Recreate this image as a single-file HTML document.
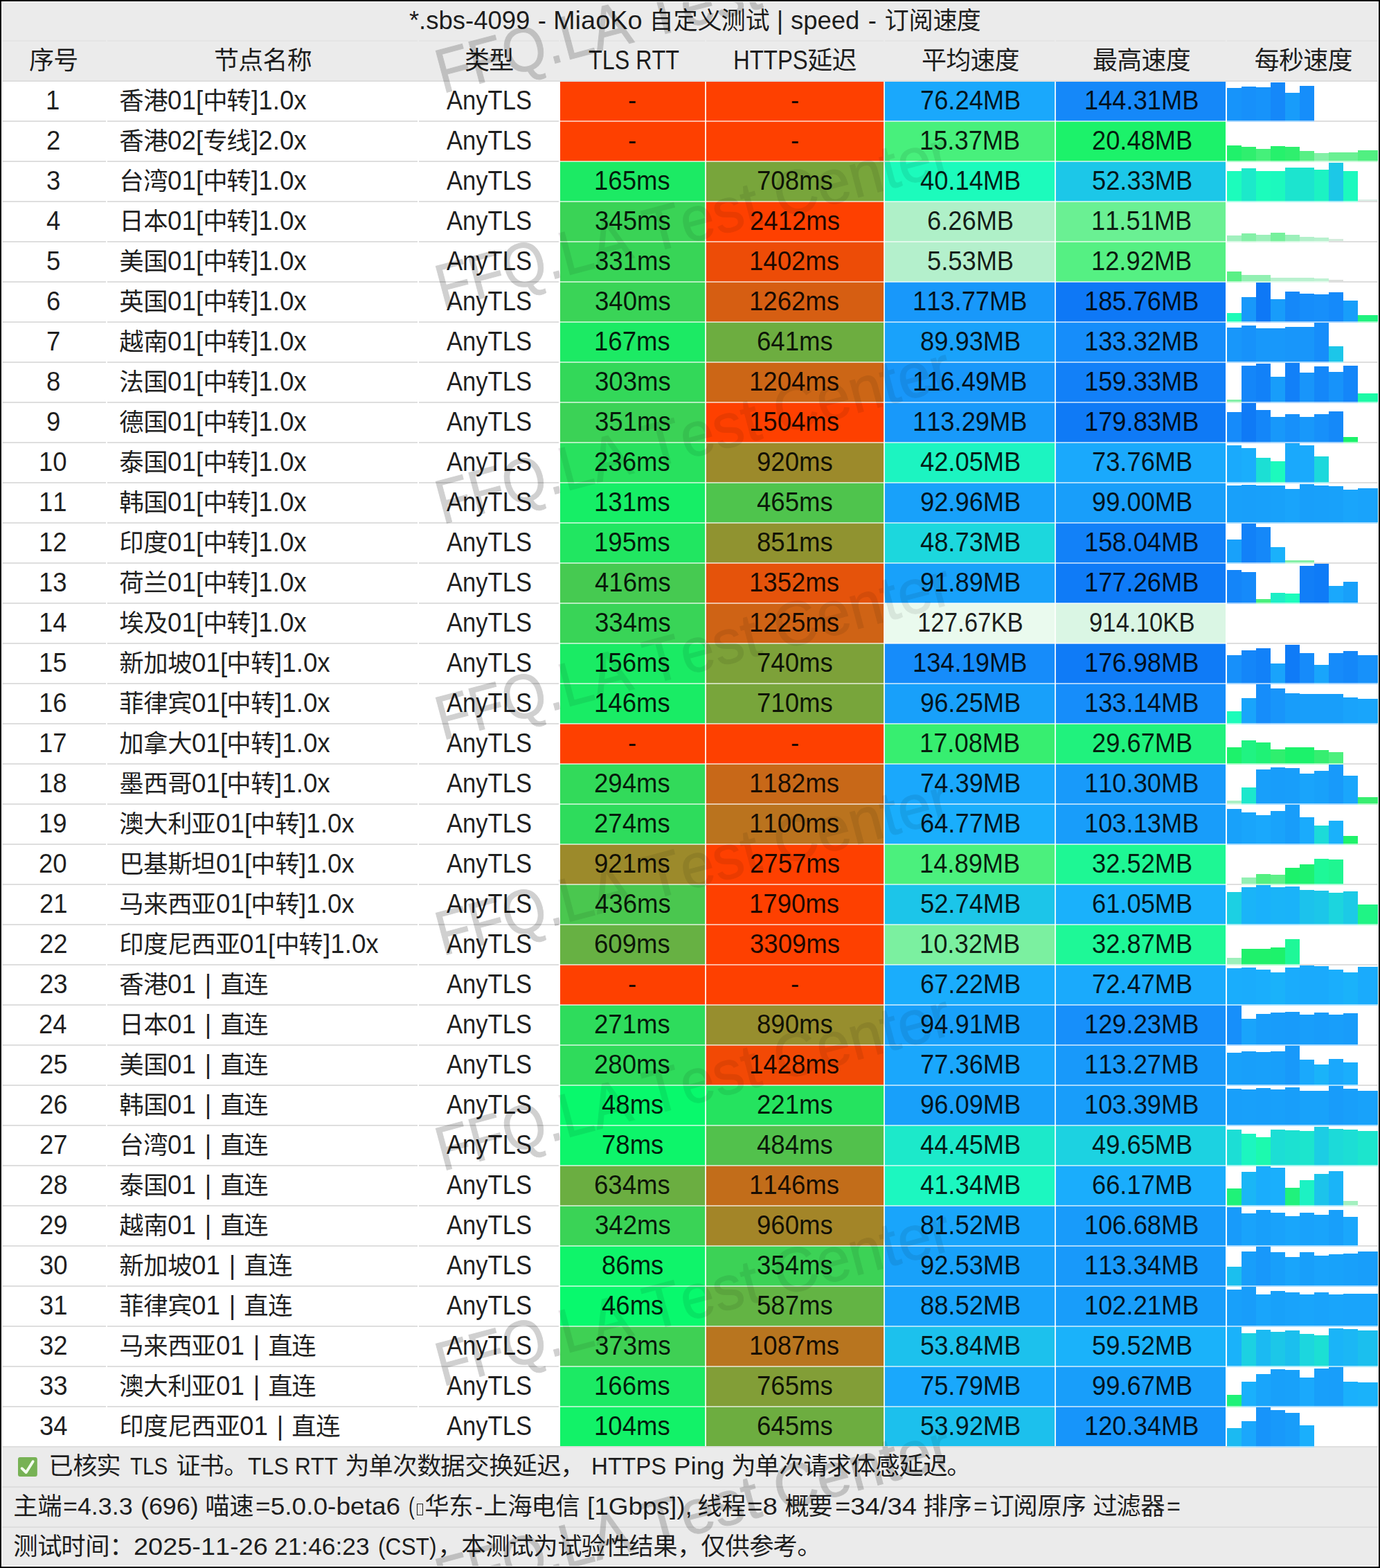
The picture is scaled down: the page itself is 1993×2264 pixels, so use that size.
<!DOCTYPE html>
<html lang="zh"><head><meta charset="utf-8"><title>MiaoKo speed</title>
<style>
html,body{margin:0;padding:0;background:#fff}
#root{position:relative;width:1993px;height:2264px;overflow:hidden;background:#fff;font-family:"Liberation Sans","Noto Sans CJK SC",sans-serif;color:rgba(0,0,0,.88)}
.b{position:absolute}
.t{position:absolute;white-space:nowrap;height:58px;line-height:58px;font-size:38px;letter-spacing:0;font-kerning:none;text-align:left;box-sizing:border-box;margin-top:-0.7px}
.t.tt{font-size:36.5px;margin-top:0.8px}
.t.f{font-size:35px;margin-top:-1.0px}
.c{display:inline-block;width:36px;margin:0 -0.4px;font-size:36px;line-height:1;font-style:normal;letter-spacing:0;white-space:nowrap;text-align:center;vertical-align:baseline;font-family:"Liberation Sans","Noto Sans CJK SC",sans-serif}
.tt .c{transform:scale(.9773);margin:0 -0.65px}
.f .c,.l .c{transform:scale(.983);margin:0 -0.7px}
.r{display:inline-block;transform-origin:0 50%;white-space:pre}
.wl{position:absolute;left:0;top:0;width:1993px;height:2264px;overflow:hidden;pointer-events:none}
.wm{position:absolute;white-space:nowrap;font-size:90px;line-height:90px;height:90px;color:#000;font-kerning:none;transform-origin:0 76.2px;transform:rotate(-15deg);-webkit-text-stroke:1px #000}

</style></head>
<body>
<div id="root">
<div class="b" style="left:0.0px;top:0.0px;width:1993.0px;height:117.0px;background:#ebebeb"></div>
<div class="b" style="left:0.0px;top:2089.0px;width:1993.0px;height:175.0px;background:#ebebeb"></div>
<div class="b" style="left:0.0px;top:57.9px;width:1993.0px;height:2.2px;background:#e5e5e5"></div>
<div class="b" style="left:0.0px;top:115.9px;width:1993.0px;height:2.2px;background:#dedede"></div>
<div class="b" style="left:0.0px;top:173.9px;width:1993.0px;height:2.2px;background:#dedede"></div>
<div class="b" style="left:0.0px;top:231.9px;width:1993.0px;height:2.2px;background:#dedede"></div>
<div class="b" style="left:0.0px;top:289.9px;width:1993.0px;height:2.2px;background:#dedede"></div>
<div class="b" style="left:0.0px;top:347.9px;width:1993.0px;height:2.2px;background:#dedede"></div>
<div class="b" style="left:0.0px;top:405.9px;width:1993.0px;height:2.2px;background:#dedede"></div>
<div class="b" style="left:0.0px;top:463.9px;width:1993.0px;height:2.2px;background:#dedede"></div>
<div class="b" style="left:0.0px;top:521.9px;width:1993.0px;height:2.2px;background:#dedede"></div>
<div class="b" style="left:0.0px;top:579.9px;width:1993.0px;height:2.2px;background:#dedede"></div>
<div class="b" style="left:0.0px;top:637.9px;width:1993.0px;height:2.2px;background:#dedede"></div>
<div class="b" style="left:0.0px;top:695.9px;width:1993.0px;height:2.2px;background:#dedede"></div>
<div class="b" style="left:0.0px;top:753.9px;width:1993.0px;height:2.2px;background:#dedede"></div>
<div class="b" style="left:0.0px;top:811.9px;width:1993.0px;height:2.2px;background:#dedede"></div>
<div class="b" style="left:0.0px;top:869.9px;width:1993.0px;height:2.2px;background:#dedede"></div>
<div class="b" style="left:0.0px;top:927.9px;width:1993.0px;height:2.2px;background:#dedede"></div>
<div class="b" style="left:0.0px;top:985.9px;width:1993.0px;height:2.2px;background:#dedede"></div>
<div class="b" style="left:0.0px;top:1043.9px;width:1993.0px;height:2.2px;background:#dedede"></div>
<div class="b" style="left:0.0px;top:1101.9px;width:1993.0px;height:2.2px;background:#dedede"></div>
<div class="b" style="left:0.0px;top:1159.9px;width:1993.0px;height:2.2px;background:#dedede"></div>
<div class="b" style="left:0.0px;top:1217.9px;width:1993.0px;height:2.2px;background:#dedede"></div>
<div class="b" style="left:0.0px;top:1275.9px;width:1993.0px;height:2.2px;background:#dedede"></div>
<div class="b" style="left:0.0px;top:1333.9px;width:1993.0px;height:2.2px;background:#dedede"></div>
<div class="b" style="left:0.0px;top:1391.9px;width:1993.0px;height:2.2px;background:#dedede"></div>
<div class="b" style="left:0.0px;top:1449.9px;width:1993.0px;height:2.2px;background:#dedede"></div>
<div class="b" style="left:0.0px;top:1507.9px;width:1993.0px;height:2.2px;background:#dedede"></div>
<div class="b" style="left:0.0px;top:1565.9px;width:1993.0px;height:2.2px;background:#dedede"></div>
<div class="b" style="left:0.0px;top:1623.9px;width:1993.0px;height:2.2px;background:#dedede"></div>
<div class="b" style="left:0.0px;top:1681.9px;width:1993.0px;height:2.2px;background:#dedede"></div>
<div class="b" style="left:0.0px;top:1739.9px;width:1993.0px;height:2.2px;background:#dedede"></div>
<div class="b" style="left:0.0px;top:1797.9px;width:1993.0px;height:2.2px;background:#dedede"></div>
<div class="b" style="left:0.0px;top:1855.9px;width:1993.0px;height:2.2px;background:#dedede"></div>
<div class="b" style="left:0.0px;top:1913.9px;width:1993.0px;height:2.2px;background:#dedede"></div>
<div class="b" style="left:0.0px;top:1971.9px;width:1993.0px;height:2.2px;background:#dedede"></div>
<div class="b" style="left:0.0px;top:2029.9px;width:1993.0px;height:2.2px;background:#dedede"></div>
<div class="b" style="left:0.0px;top:2087.9px;width:1993.0px;height:2.2px;background:#dedede"></div>
<div class="b" style="left:0.0px;top:2145.9px;width:1993.0px;height:2.2px;background:#dedede"></div>
<div class="b" style="left:0.0px;top:2203.9px;width:1993.0px;height:2.2px;background:#dedede"></div>
<div class="b" style="left:808.0px;top:118.1px;width:211.0px;height:56.9px;background:#fe4000"></div>
<div class="b" style="left:1019.0px;top:118.1px;width:258.0px;height:56.9px;background:#fe4000"></div>
<div class="b" style="left:1277.0px;top:118.1px;width:247.0px;height:56.9px;background:#1aa8fc"></div>
<div class="b" style="left:1524.0px;top:118.1px;width:247.0px;height:56.9px;background:#1588f9"></div>
<div class="b" style="left:1772.0px;top:127.4px;width:21.3px;height:48.7px;background:#1794fa"></div>
<div class="b" style="left:1793.0px;top:124.7px;width:21.3px;height:51.4px;background:#1790fa"></div>
<div class="b" style="left:1814.0px;top:126.4px;width:21.3px;height:49.7px;background:#1793fa"></div>
<div class="b" style="left:1835.0px;top:118.5px;width:21.3px;height:57.6px;background:#1588f9"></div>
<div class="b" style="left:1856.0px;top:133.6px;width:21.3px;height:42.5px;background:#189cfa"></div>
<div class="b" style="left:1877.0px;top:123.5px;width:21.3px;height:52.6px;background:#168efa"></div>
<div class="b" style="left:808.0px;top:175.0px;width:211.0px;height:58.0px;background:#fe4000"></div>
<div class="b" style="left:1019.0px;top:175.0px;width:258.0px;height:58.0px;background:#fe4000"></div>
<div class="b" style="left:1277.0px;top:175.0px;width:247.0px;height:58.0px;background:#48f07c"></div>
<div class="b" style="left:1524.0px;top:175.0px;width:247.0px;height:58.0px;background:#1cf26a"></div>
<div class="b" style="left:1772.0px;top:210.4px;width:21.3px;height:23.7px;background:#20f16b"></div>
<div class="b" style="left:1793.0px;top:212.3px;width:21.3px;height:21.8px;background:#2fef6e"></div>
<div class="b" style="left:1814.0px;top:215.0px;width:21.3px;height:19.1px;background:#45f07a"></div>
<div class="b" style="left:1835.0px;top:211.2px;width:21.3px;height:22.9px;background:#26f16c"></div>
<div class="b" style="left:1856.0px;top:212.3px;width:21.3px;height:21.8px;background:#2fef6e"></div>
<div class="b" style="left:1877.0px;top:218.2px;width:21.3px;height:15.9px;background:#58f085"></div>
<div class="b" style="left:1898.0px;top:221.4px;width:21.3px;height:12.7px;background:#84f0a7"></div>
<div class="b" style="left:1919.0px;top:219.5px;width:21.3px;height:14.6px;background:#6af093"></div>
<div class="b" style="left:1940.0px;top:219.5px;width:21.3px;height:14.6px;background:#6af093"></div>
<div class="b" style="left:1961.0px;top:217.3px;width:21.3px;height:16.8px;background:#51f081"></div>
<div class="b" style="left:1982.0px;top:217.3px;width:8.6px;height:16.8px;background:#51f081"></div>
<div class="b" style="left:808.0px;top:233.0px;width:211.0px;height:58.0px;background:#1cea64"></div>
<div class="b" style="left:1019.0px;top:233.0px;width:258.0px;height:58.0px;background:#78a53b"></div>
<div class="b" style="left:1277.0px;top:233.0px;width:247.0px;height:58.0px;background:#1cfbbc"></div>
<div class="b" style="left:1524.0px;top:233.0px;width:247.0px;height:58.0px;background:#1cc7e8"></div>
<div class="b" style="left:1772.0px;top:247.4px;width:21.3px;height:44.7px;background:#1cfcbc"></div>
<div class="b" style="left:1793.0px;top:242.6px;width:21.3px;height:49.5px;background:#1ce9ca"></div>
<div class="b" style="left:1814.0px;top:247.4px;width:21.3px;height:44.7px;background:#1cfcbc"></div>
<div class="b" style="left:1835.0px;top:246.8px;width:21.3px;height:45.3px;background:#1cf9be"></div>
<div class="b" style="left:1856.0px;top:241.5px;width:21.3px;height:50.6px;background:#1ce4cf"></div>
<div class="b" style="left:1877.0px;top:241.5px;width:21.3px;height:50.6px;background:#1ce4cf"></div>
<div class="b" style="left:1898.0px;top:244.7px;width:21.3px;height:47.4px;background:#1cf2c3"></div>
<div class="b" style="left:1919.0px;top:234.8px;width:21.3px;height:57.3px;background:#1cc8e7"></div>
<div class="b" style="left:1940.0px;top:246.6px;width:21.3px;height:45.5px;background:#1cf9be"></div>
<div class="b" style="left:1961.0px;top:287.7px;width:21.3px;height:2.2px;background:#dbeee6"></div>
<div class="b" style="left:1982.0px;top:287.7px;width:8.6px;height:2.2px;background:#dbeee6"></div>
<div class="b" style="left:808.0px;top:291.0px;width:211.0px;height:58.0px;background:#3ad356"></div>
<div class="b" style="left:1019.0px;top:291.0px;width:258.0px;height:58.0px;background:#fe4000"></div>
<div class="b" style="left:1277.0px;top:291.0px;width:247.0px;height:58.0px;background:#aff0c8"></div>
<div class="b" style="left:1524.0px;top:291.0px;width:247.0px;height:58.0px;background:#6af093"></div>
<div class="b" style="left:1772.0px;top:339.7px;width:21.3px;height:10.4px;background:#a1f0be"></div>
<div class="b" style="left:1793.0px;top:337.4px;width:21.3px;height:12.7px;background:#84f0a7"></div>
<div class="b" style="left:1814.0px;top:339.3px;width:21.3px;height:10.8px;background:#9cf0ba"></div>
<div class="b" style="left:1835.0px;top:336.4px;width:21.3px;height:13.7px;background:#76f09c"></div>
<div class="b" style="left:1856.0px;top:339.3px;width:21.3px;height:10.8px;background:#9cf0ba"></div>
<div class="b" style="left:1877.0px;top:341.8px;width:21.3px;height:8.3px;background:#b3f0cb"></div>
<div class="b" style="left:1898.0px;top:342.5px;width:21.3px;height:7.6px;background:#b8f1ce"></div>
<div class="b" style="left:1919.0px;top:345.4px;width:21.3px;height:2.5px;background:#d4ecdc"></div>
<div class="b" style="left:808.0px;top:349.0px;width:211.0px;height:58.0px;background:#38d557"></div>
<div class="b" style="left:1019.0px;top:349.0px;width:258.0px;height:58.0px;background:#ed4c07"></div>
<div class="b" style="left:1277.0px;top:349.0px;width:247.0px;height:58.0px;background:#b4f0cc"></div>
<div class="b" style="left:1524.0px;top:349.0px;width:247.0px;height:58.0px;background:#55f083"></div>
<div class="b" style="left:1772.0px;top:392.3px;width:21.3px;height:15.8px;background:#5af086"></div>
<div class="b" style="left:1793.0px;top:396.5px;width:21.3px;height:11.6px;background:#92f0b2"></div>
<div class="b" style="left:1814.0px;top:396.5px;width:21.3px;height:11.6px;background:#92f0b2"></div>
<div class="b" style="left:1835.0px;top:400.6px;width:21.3px;height:7.5px;background:#b9f1cf"></div>
<div class="b" style="left:1856.0px;top:400.6px;width:21.3px;height:7.5px;background:#b9f1cf"></div>
<div class="b" style="left:1877.0px;top:400.8px;width:21.3px;height:7.3px;background:#baf1d0"></div>
<div class="b" style="left:1898.0px;top:401.6px;width:21.3px;height:6.5px;background:#c0f2d3"></div>
<div class="b" style="left:1919.0px;top:404.4px;width:21.3px;height:1.5px;background:#dcdfdc"></div>
<div class="b" style="left:808.0px;top:407.0px;width:211.0px;height:58.0px;background:#3ad457"></div>
<div class="b" style="left:1019.0px;top:407.0px;width:258.0px;height:58.0px;background:#d65e12"></div>
<div class="b" style="left:1277.0px;top:407.0px;width:247.0px;height:58.0px;background:#1898fa"></div>
<div class="b" style="left:1524.0px;top:407.0px;width:247.0px;height:58.0px;background:#0e78f6"></div>
<div class="b" style="left:1772.0px;top:452.2px;width:21.3px;height:13.9px;background:#1cfcb8"></div>
<div class="b" style="left:1793.0px;top:429.3px;width:21.3px;height:36.8px;background:#1898fa"></div>
<div class="b" style="left:1814.0px;top:408.1px;width:21.3px;height:58.0px;background:#0e78f6"></div>
<div class="b" style="left:1835.0px;top:432.2px;width:21.3px;height:33.9px;background:#189cfa"></div>
<div class="b" style="left:1856.0px;top:421.2px;width:21.3px;height:44.9px;background:#1588f9"></div>
<div class="b" style="left:1877.0px;top:424.2px;width:21.3px;height:41.9px;background:#168dfa"></div>
<div class="b" style="left:1898.0px;top:425.2px;width:21.3px;height:40.9px;background:#178ffa"></div>
<div class="b" style="left:1919.0px;top:422.1px;width:21.3px;height:44.0px;background:#158afa"></div>
<div class="b" style="left:1940.0px;top:434.1px;width:21.3px;height:32.0px;background:#189efa"></div>
<div class="b" style="left:1961.0px;top:455.0px;width:21.3px;height:11.1px;background:#20f27e"></div>
<div class="b" style="left:1982.0px;top:455.0px;width:8.6px;height:11.1px;background:#20f27e"></div>
<div class="b" style="left:808.0px;top:465.0px;width:211.0px;height:58.0px;background:#1cea64"></div>
<div class="b" style="left:1019.0px;top:465.0px;width:258.0px;height:58.0px;background:#6dad40"></div>
<div class="b" style="left:1277.0px;top:465.0px;width:247.0px;height:58.0px;background:#19a2fb"></div>
<div class="b" style="left:1524.0px;top:465.0px;width:247.0px;height:58.0px;background:#168dfa"></div>
<div class="b" style="left:1772.0px;top:473.4px;width:21.3px;height:50.7px;background:#1897fa"></div>
<div class="b" style="left:1793.0px;top:469.9px;width:21.3px;height:54.2px;background:#1792fa"></div>
<div class="b" style="left:1814.0px;top:474.0px;width:21.3px;height:50.1px;background:#1898fa"></div>
<div class="b" style="left:1835.0px;top:474.0px;width:21.3px;height:50.1px;background:#1898fa"></div>
<div class="b" style="left:1856.0px;top:472.3px;width:21.3px;height:51.8px;background:#1896fa"></div>
<div class="b" style="left:1877.0px;top:472.3px;width:21.3px;height:51.8px;background:#1896fa"></div>
<div class="b" style="left:1898.0px;top:466.4px;width:21.3px;height:57.7px;background:#168dfa"></div>
<div class="b" style="left:1919.0px;top:500.0px;width:21.3px;height:24.1px;background:#1cc6e9"></div>
<div class="b" style="left:808.0px;top:523.0px;width:211.0px;height:58.0px;background:#33d859"></div>
<div class="b" style="left:1019.0px;top:523.0px;width:258.0px;height:58.0px;background:#cc6616"></div>
<div class="b" style="left:1277.0px;top:523.0px;width:247.0px;height:58.0px;background:#1897fa"></div>
<div class="b" style="left:1524.0px;top:523.0px;width:247.0px;height:58.0px;background:#1280f8"></div>
<div class="b" style="left:1772.0px;top:576.5px;width:21.3px;height:5.6px;background:#83f0a7"></div>
<div class="b" style="left:1793.0px;top:528.2px;width:21.3px;height:53.9px;background:#1486f9"></div>
<div class="b" style="left:1814.0px;top:525.1px;width:21.3px;height:57.0px;background:#1281f8"></div>
<div class="b" style="left:1835.0px;top:544.0px;width:21.3px;height:38.1px;background:#189dfa"></div>
<div class="b" style="left:1856.0px;top:524.1px;width:21.3px;height:58.0px;background:#1280f8"></div>
<div class="b" style="left:1877.0px;top:538.3px;width:21.3px;height:43.8px;background:#1895fa"></div>
<div class="b" style="left:1898.0px;top:529.2px;width:21.3px;height:52.9px;background:#1487f9"></div>
<div class="b" style="left:1919.0px;top:537.1px;width:21.3px;height:45.0px;background:#1793fa"></div>
<div class="b" style="left:1940.0px;top:528.2px;width:21.3px;height:53.9px;background:#1486f9"></div>
<div class="b" style="left:1961.0px;top:567.6px;width:21.3px;height:14.5px;background:#1cfaa6"></div>
<div class="b" style="left:1982.0px;top:567.6px;width:8.6px;height:14.5px;background:#1cfaa6"></div>
<div class="b" style="left:808.0px;top:581.0px;width:211.0px;height:58.0px;background:#3bd256"></div>
<div class="b" style="left:1019.0px;top:581.0px;width:258.0px;height:58.0px;background:#fe4000"></div>
<div class="b" style="left:1277.0px;top:581.0px;width:247.0px;height:58.0px;background:#1899fa"></div>
<div class="b" style="left:1524.0px;top:581.0px;width:247.0px;height:58.0px;background:#0f7af6"></div>
<div class="b" style="left:1772.0px;top:595.4px;width:21.3px;height:44.7px;background:#168bfa"></div>
<div class="b" style="left:1793.0px;top:582.3px;width:21.3px;height:57.8px;background:#0f7af6"></div>
<div class="b" style="left:1814.0px;top:592.3px;width:21.3px;height:47.8px;background:#1486f9"></div>
<div class="b" style="left:1835.0px;top:602.2px;width:21.3px;height:37.9px;background:#1898fa"></div>
<div class="b" style="left:1856.0px;top:598.4px;width:21.3px;height:41.7px;background:#1790fa"></div>
<div class="b" style="left:1877.0px;top:602.2px;width:21.3px;height:37.9px;background:#1898fa"></div>
<div class="b" style="left:1898.0px;top:598.4px;width:21.3px;height:41.7px;background:#1790fa"></div>
<div class="b" style="left:1919.0px;top:594.2px;width:21.3px;height:45.9px;background:#1589f9"></div>
<div class="b" style="left:1940.0px;top:631.3px;width:21.3px;height:8.8px;background:#1cf26b"></div>
<div class="b" style="left:808.0px;top:639.0px;width:211.0px;height:58.0px;background:#28e15e"></div>
<div class="b" style="left:1019.0px;top:639.0px;width:258.0px;height:58.0px;background:#9c8a2b"></div>
<div class="b" style="left:1277.0px;top:639.0px;width:247.0px;height:58.0px;background:#1cf4c1"></div>
<div class="b" style="left:1524.0px;top:639.0px;width:247.0px;height:58.0px;background:#1aa9fc"></div>
<div class="b" style="left:1772.0px;top:642.5px;width:21.3px;height:55.6px;background:#1aaafc"></div>
<div class="b" style="left:1793.0px;top:647.4px;width:21.3px;height:50.7px;background:#1aaefc"></div>
<div class="b" style="left:1814.0px;top:660.7px;width:21.3px;height:37.4px;background:#1cdfd4"></div>
<div class="b" style="left:1835.0px;top:665.5px;width:21.3px;height:32.6px;background:#1cfabd"></div>
<div class="b" style="left:1856.0px;top:640.4px;width:21.3px;height:57.7px;background:#1aa9fc"></div>
<div class="b" style="left:1877.0px;top:642.5px;width:21.3px;height:55.6px;background:#1aaafc"></div>
<div class="b" style="left:1898.0px;top:659.4px;width:21.3px;height:38.7px;background:#1cd8dc"></div>
<div class="b" style="left:808.0px;top:697.0px;width:211.0px;height:58.0px;background:#16ee66"></div>
<div class="b" style="left:1019.0px;top:697.0px;width:258.0px;height:58.0px;background:#4fc44d"></div>
<div class="b" style="left:1277.0px;top:697.0px;width:247.0px;height:58.0px;background:#18a1fa"></div>
<div class="b" style="left:1524.0px;top:697.0px;width:247.0px;height:58.0px;background:#189efa"></div>
<div class="b" style="left:1772.0px;top:700.5px;width:21.3px;height:55.6px;background:#18a0fa"></div>
<div class="b" style="left:1793.0px;top:699.5px;width:21.3px;height:56.6px;background:#189ffa"></div>
<div class="b" style="left:1814.0px;top:700.5px;width:21.3px;height:55.6px;background:#18a0fa"></div>
<div class="b" style="left:1835.0px;top:701.4px;width:21.3px;height:54.7px;background:#18a1fa"></div>
<div class="b" style="left:1856.0px;top:706.2px;width:21.3px;height:49.9px;background:#19a4fb"></div>
<div class="b" style="left:1877.0px;top:698.6px;width:21.3px;height:57.5px;background:#189ffa"></div>
<div class="b" style="left:1898.0px;top:701.2px;width:21.3px;height:54.9px;background:#18a0fa"></div>
<div class="b" style="left:1919.0px;top:702.4px;width:21.3px;height:53.7px;background:#18a1fa"></div>
<div class="b" style="left:1940.0px;top:707.3px;width:21.3px;height:48.8px;background:#19a5fb"></div>
<div class="b" style="left:1961.0px;top:704.6px;width:21.3px;height:51.5px;background:#19a3fb"></div>
<div class="b" style="left:1982.0px;top:704.6px;width:8.6px;height:51.5px;background:#19a3fb"></div>
<div class="b" style="left:808.0px;top:755.0px;width:211.0px;height:58.0px;background:#21e661"></div>
<div class="b" style="left:1019.0px;top:755.0px;width:258.0px;height:58.0px;background:#909330"></div>
<div class="b" style="left:1277.0px;top:755.0px;width:247.0px;height:58.0px;background:#1cd7dd"></div>
<div class="b" style="left:1524.0px;top:755.0px;width:247.0px;height:58.0px;background:#1281f8"></div>
<div class="b" style="left:1772.0px;top:779.3px;width:21.3px;height:34.8px;background:#18a1fa"></div>
<div class="b" style="left:1793.0px;top:756.1px;width:21.3px;height:58.0px;background:#1281f8"></div>
<div class="b" style="left:1814.0px;top:761.2px;width:21.3px;height:52.9px;background:#1588f9"></div>
<div class="b" style="left:1835.0px;top:790.4px;width:21.3px;height:23.7px;background:#1ab1fb"></div>
<div class="b" style="left:1856.0px;top:808.5px;width:21.3px;height:5.6px;background:#84f0a7"></div>
<div class="b" style="left:1877.0px;top:808.5px;width:21.3px;height:5.6px;background:#84f0a7"></div>
<div class="b" style="left:808.0px;top:813.0px;width:211.0px;height:58.0px;background:#46ca51"></div>
<div class="b" style="left:1019.0px;top:813.0px;width:258.0px;height:58.0px;background:#e5530b"></div>
<div class="b" style="left:1277.0px;top:813.0px;width:247.0px;height:58.0px;background:#18a1fa"></div>
<div class="b" style="left:1524.0px;top:813.0px;width:247.0px;height:58.0px;background:#0f7bf7"></div>
<div class="b" style="left:1772.0px;top:823.1px;width:21.3px;height:49.0px;background:#1485f9"></div>
<div class="b" style="left:1793.0px;top:826.2px;width:21.3px;height:45.9px;background:#158afa"></div>
<div class="b" style="left:1814.0px;top:865.2px;width:21.3px;height:6.9px;background:#4af07d"></div>
<div class="b" style="left:1835.0px;top:856.3px;width:21.3px;height:15.8px;background:#1ceec6"></div>
<div class="b" style="left:1856.0px;top:857.4px;width:21.3px;height:14.7px;background:#1cfcbc"></div>
<div class="b" style="left:1877.0px;top:817.3px;width:21.3px;height:54.8px;background:#117ef7"></div>
<div class="b" style="left:1898.0px;top:814.3px;width:21.3px;height:57.8px;background:#0f7bf7"></div>
<div class="b" style="left:1919.0px;top:846.2px;width:21.3px;height:25.9px;background:#1aa8fc"></div>
<div class="b" style="left:1940.0px;top:840.2px;width:21.3px;height:31.9px;background:#18a0fa"></div>
<div class="b" style="left:808.0px;top:871.0px;width:211.0px;height:58.0px;background:#39d457"></div>
<div class="b" style="left:1019.0px;top:871.0px;width:258.0px;height:58.0px;background:#cf6315"></div>
<div class="b" style="left:1277.0px;top:871.0px;width:247.0px;height:58.0px;background:#eafaee"></div>
<div class="b" style="left:1524.0px;top:871.0px;width:247.0px;height:58.0px;background:#daf6e4"></div>
<div class="b" style="left:808.0px;top:929.0px;width:211.0px;height:58.0px;background:#1aeb64"></div>
<div class="b" style="left:1019.0px;top:929.0px;width:258.0px;height:58.0px;background:#7da139"></div>
<div class="b" style="left:1277.0px;top:929.0px;width:247.0px;height:58.0px;background:#168cfa"></div>
<div class="b" style="left:1524.0px;top:929.0px;width:247.0px;height:58.0px;background:#0f7bf7"></div>
<div class="b" style="left:1772.0px;top:945.5px;width:21.3px;height:42.6px;background:#1790fa"></div>
<div class="b" style="left:1793.0px;top:939.4px;width:21.3px;height:48.7px;background:#1486f9"></div>
<div class="b" style="left:1814.0px;top:936.2px;width:21.3px;height:51.9px;background:#1281f8"></div>
<div class="b" style="left:1835.0px;top:958.4px;width:21.3px;height:29.7px;background:#19a3fb"></div>
<div class="b" style="left:1856.0px;top:930.5px;width:21.3px;height:57.6px;background:#0f7bf7"></div>
<div class="b" style="left:1877.0px;top:943.2px;width:21.3px;height:44.9px;background:#168bfa"></div>
<div class="b" style="left:1898.0px;top:960.3px;width:21.3px;height:27.8px;background:#19a5fb"></div>
<div class="b" style="left:1919.0px;top:943.2px;width:21.3px;height:44.9px;background:#168bfa"></div>
<div class="b" style="left:1940.0px;top:940.3px;width:21.3px;height:47.8px;background:#1487f9"></div>
<div class="b" style="left:1961.0px;top:946.4px;width:21.3px;height:41.7px;background:#1791fa"></div>
<div class="b" style="left:1982.0px;top:946.4px;width:8.6px;height:41.7px;background:#1791fa"></div>
<div class="b" style="left:808.0px;top:987.0px;width:211.0px;height:58.0px;background:#19ec65"></div>
<div class="b" style="left:1019.0px;top:987.0px;width:258.0px;height:58.0px;background:#78a53b"></div>
<div class="b" style="left:1277.0px;top:987.0px;width:247.0px;height:58.0px;background:#18a0fa"></div>
<div class="b" style="left:1524.0px;top:987.0px;width:247.0px;height:58.0px;background:#168dfa"></div>
<div class="b" style="left:1772.0px;top:1027.4px;width:21.3px;height:18.7px;background:#1cfcba"></div>
<div class="b" style="left:1793.0px;top:1008.4px;width:21.3px;height:37.7px;background:#19a4fb"></div>
<div class="b" style="left:1814.0px;top:988.1px;width:21.3px;height:58.0px;background:#168dfa"></div>
<div class="b" style="left:1835.0px;top:994.2px;width:21.3px;height:51.9px;background:#1895fa"></div>
<div class="b" style="left:1856.0px;top:1001.2px;width:21.3px;height:44.9px;background:#189dfa"></div>
<div class="b" style="left:1877.0px;top:1002.3px;width:21.3px;height:43.8px;background:#189efa"></div>
<div class="b" style="left:1898.0px;top:1002.3px;width:21.3px;height:43.8px;background:#189efa"></div>
<div class="b" style="left:1919.0px;top:1002.3px;width:21.3px;height:43.8px;background:#189efa"></div>
<div class="b" style="left:1940.0px;top:1007.1px;width:21.3px;height:39.0px;background:#19a3fb"></div>
<div class="b" style="left:1961.0px;top:1009.3px;width:21.3px;height:36.8px;background:#19a5fb"></div>
<div class="b" style="left:1982.0px;top:1009.3px;width:8.6px;height:36.8px;background:#19a5fb"></div>
<div class="b" style="left:808.0px;top:1045.0px;width:211.0px;height:58.0px;background:#fe4000"></div>
<div class="b" style="left:1019.0px;top:1045.0px;width:258.0px;height:58.0px;background:#fe4000"></div>
<div class="b" style="left:1277.0px;top:1045.0px;width:247.0px;height:58.0px;background:#37ee70"></div>
<div class="b" style="left:1524.0px;top:1045.0px;width:247.0px;height:58.0px;background:#20f27d"></div>
<div class="b" style="left:1772.0px;top:1078.5px;width:21.3px;height:25.6px;background:#1df26b"></div>
<div class="b" style="left:1793.0px;top:1069.3px;width:21.3px;height:34.8px;background:#20f382"></div>
<div class="b" style="left:1814.0px;top:1072.1px;width:21.3px;height:32.0px;background:#1ff276"></div>
<div class="b" style="left:1835.0px;top:1082.4px;width:21.3px;height:21.7px;background:#2fef6e"></div>
<div class="b" style="left:1856.0px;top:1079.2px;width:21.3px;height:24.9px;background:#1cf26b"></div>
<div class="b" style="left:1877.0px;top:1079.2px;width:21.3px;height:24.9px;background:#1cf26b"></div>
<div class="b" style="left:1898.0px;top:1083.3px;width:21.3px;height:20.8px;background:#36ee70"></div>
<div class="b" style="left:1919.0px;top:1086.2px;width:21.3px;height:17.9px;background:#4cf07e"></div>
<div class="b" style="left:808.0px;top:1103.0px;width:211.0px;height:58.0px;background:#32da5a"></div>
<div class="b" style="left:1019.0px;top:1103.0px;width:258.0px;height:58.0px;background:#c86818"></div>
<div class="b" style="left:1277.0px;top:1103.0px;width:247.0px;height:58.0px;background:#1aa8fc"></div>
<div class="b" style="left:1524.0px;top:1103.0px;width:247.0px;height:58.0px;background:#189afa"></div>
<div class="b" style="left:1772.0px;top:1156.4px;width:21.3px;height:5.7px;background:#aaf0c4"></div>
<div class="b" style="left:1793.0px;top:1137.3px;width:21.3px;height:24.8px;background:#1ce7cc"></div>
<div class="b" style="left:1814.0px;top:1111.4px;width:21.3px;height:50.7px;background:#189ffa"></div>
<div class="b" style="left:1835.0px;top:1108.2px;width:21.3px;height:53.9px;background:#189dfa"></div>
<div class="b" style="left:1856.0px;top:1109.2px;width:21.3px;height:52.9px;background:#189efa"></div>
<div class="b" style="left:1877.0px;top:1117.2px;width:21.3px;height:44.9px;background:#19a4fb"></div>
<div class="b" style="left:1898.0px;top:1113.4px;width:21.3px;height:48.7px;background:#18a1fa"></div>
<div class="b" style="left:1919.0px;top:1104.1px;width:21.3px;height:58.0px;background:#189afa"></div>
<div class="b" style="left:1940.0px;top:1120.2px;width:21.3px;height:41.9px;background:#1aa6fc"></div>
<div class="b" style="left:1961.0px;top:1151.3px;width:21.3px;height:10.8px;background:#37ee70"></div>
<div class="b" style="left:1982.0px;top:1151.3px;width:8.6px;height:10.8px;background:#37ee70"></div>
<div class="b" style="left:808.0px;top:1161.0px;width:211.0px;height:58.0px;background:#2edc5c"></div>
<div class="b" style="left:1019.0px;top:1161.0px;width:258.0px;height:58.0px;background:#ba731e"></div>
<div class="b" style="left:1277.0px;top:1161.0px;width:247.0px;height:58.0px;background:#1aaefc"></div>
<div class="b" style="left:1524.0px;top:1161.0px;width:247.0px;height:58.0px;background:#189dfa"></div>
<div class="b" style="left:1772.0px;top:1168.1px;width:21.3px;height:52.0px;background:#18a1fa"></div>
<div class="b" style="left:1793.0px;top:1173.4px;width:21.3px;height:46.7px;background:#19a5fb"></div>
<div class="b" style="left:1814.0px;top:1177.3px;width:21.3px;height:42.8px;background:#1aa8fc"></div>
<div class="b" style="left:1835.0px;top:1171.3px;width:21.3px;height:48.8px;background:#19a3fb"></div>
<div class="b" style="left:1856.0px;top:1162.4px;width:21.3px;height:57.7px;background:#189dfa"></div>
<div class="b" style="left:1877.0px;top:1180.1px;width:21.3px;height:40.0px;background:#1aabfc"></div>
<div class="b" style="left:1898.0px;top:1192.2px;width:21.3px;height:27.9px;background:#1cdbd8"></div>
<div class="b" style="left:1919.0px;top:1185.2px;width:21.3px;height:34.9px;background:#1ab1fb"></div>
<div class="b" style="left:1940.0px;top:1207.1px;width:21.3px;height:13.0px;background:#1ff26b"></div>
<div class="b" style="left:808.0px;top:1219.0px;width:211.0px;height:58.0px;background:#9c8a2b"></div>
<div class="b" style="left:1019.0px;top:1219.0px;width:258.0px;height:58.0px;background:#fe4000"></div>
<div class="b" style="left:1277.0px;top:1219.0px;width:247.0px;height:58.0px;background:#4bf07d"></div>
<div class="b" style="left:1524.0px;top:1219.0px;width:247.0px;height:58.0px;background:#1ef794"></div>
<div class="b" style="left:1793.0px;top:1266.6px;width:21.3px;height:11.5px;background:#93f0b3"></div>
<div class="b" style="left:1814.0px;top:1261.6px;width:21.3px;height:16.5px;background:#53f081"></div>
<div class="b" style="left:1835.0px;top:1262.6px;width:21.3px;height:15.5px;background:#5ef089"></div>
<div class="b" style="left:1856.0px;top:1252.5px;width:21.3px;height:25.6px;background:#1df26b"></div>
<div class="b" style="left:1877.0px;top:1248.3px;width:21.3px;height:29.8px;background:#1ef270"></div>
<div class="b" style="left:1898.0px;top:1240.4px;width:21.3px;height:37.7px;background:#1ef898"></div>
<div class="b" style="left:1919.0px;top:1241.3px;width:21.3px;height:36.8px;background:#1ff691"></div>
<div class="b" style="left:808.0px;top:1277.0px;width:211.0px;height:58.0px;background:#4ac74f"></div>
<div class="b" style="left:1019.0px;top:1277.0px;width:258.0px;height:58.0px;background:#fe4000"></div>
<div class="b" style="left:1277.0px;top:1277.0px;width:247.0px;height:58.0px;background:#1cc5e9"></div>
<div class="b" style="left:1524.0px;top:1277.0px;width:247.0px;height:58.0px;background:#1ab1fb"></div>
<div class="b" style="left:1772.0px;top:1288.3px;width:21.3px;height:47.8px;background:#1cd0e3"></div>
<div class="b" style="left:1793.0px;top:1281.3px;width:21.3px;height:54.8px;background:#1ab4f8"></div>
<div class="b" style="left:1814.0px;top:1278.3px;width:21.3px;height:57.8px;background:#1ab1fb"></div>
<div class="b" style="left:1835.0px;top:1281.3px;width:21.3px;height:54.8px;background:#1ab4f8"></div>
<div class="b" style="left:1856.0px;top:1280.2px;width:21.3px;height:55.9px;background:#1ab3f9"></div>
<div class="b" style="left:1877.0px;top:1285.2px;width:21.3px;height:50.9px;background:#1cc2ec"></div>
<div class="b" style="left:1898.0px;top:1286.1px;width:21.3px;height:50.0px;background:#1cc6e9"></div>
<div class="b" style="left:1919.0px;top:1289.3px;width:21.3px;height:46.8px;background:#1cd5de"></div>
<div class="b" style="left:1940.0px;top:1287.1px;width:21.3px;height:49.0px;background:#1ccae6"></div>
<div class="b" style="left:1961.0px;top:1306.1px;width:21.3px;height:30.0px;background:#1ff485"></div>
<div class="b" style="left:1982.0px;top:1306.1px;width:8.6px;height:30.0px;background:#1ff485"></div>
<div class="b" style="left:808.0px;top:1335.0px;width:211.0px;height:58.0px;background:#67b143"></div>
<div class="b" style="left:1019.0px;top:1335.0px;width:258.0px;height:58.0px;background:#fe4000"></div>
<div class="b" style="left:1277.0px;top:1335.0px;width:247.0px;height:58.0px;background:#7bf0a0"></div>
<div class="b" style="left:1524.0px;top:1335.0px;width:247.0px;height:58.0px;background:#1ef897"></div>
<div class="b" style="left:1772.0px;top:1383.3px;width:21.3px;height:10.8px;background:#9cf0ba"></div>
<div class="b" style="left:1793.0px;top:1370.4px;width:21.3px;height:23.7px;background:#20f16b"></div>
<div class="b" style="left:1814.0px;top:1370.4px;width:21.3px;height:23.7px;background:#20f16b"></div>
<div class="b" style="left:1835.0px;top:1368.2px;width:21.3px;height:25.9px;background:#1df26b"></div>
<div class="b" style="left:1856.0px;top:1356.4px;width:21.3px;height:37.7px;background:#1ef898"></div>
<div class="b" style="left:808.0px;top:1393.0px;width:211.0px;height:58.0px;background:#fe4000"></div>
<div class="b" style="left:1019.0px;top:1393.0px;width:258.0px;height:58.0px;background:#fe4000"></div>
<div class="b" style="left:1277.0px;top:1393.0px;width:247.0px;height:58.0px;background:#1aadfc"></div>
<div class="b" style="left:1524.0px;top:1393.0px;width:247.0px;height:58.0px;background:#1aaafc"></div>
<div class="b" style="left:1772.0px;top:1398.2px;width:21.3px;height:53.9px;background:#1aadfc"></div>
<div class="b" style="left:1793.0px;top:1397.2px;width:21.3px;height:54.9px;background:#1aacfc"></div>
<div class="b" style="left:1814.0px;top:1400.1px;width:21.3px;height:52.0px;background:#1aaefc"></div>
<div class="b" style="left:1835.0px;top:1403.9px;width:21.3px;height:48.2px;background:#1ab2fa"></div>
<div class="b" style="left:1856.0px;top:1397.2px;width:21.3px;height:54.9px;background:#1aacfc"></div>
<div class="b" style="left:1877.0px;top:1394.4px;width:21.3px;height:57.7px;background:#1aaafc"></div>
<div class="b" style="left:1898.0px;top:1395.3px;width:21.3px;height:56.8px;background:#1aaafc"></div>
<div class="b" style="left:1919.0px;top:1400.1px;width:21.3px;height:52.0px;background:#1aaefc"></div>
<div class="b" style="left:1940.0px;top:1403.9px;width:21.3px;height:48.2px;background:#1ab2fa"></div>
<div class="b" style="left:1961.0px;top:1396.3px;width:21.3px;height:55.8px;background:#1aabfc"></div>
<div class="b" style="left:1982.0px;top:1396.3px;width:8.6px;height:55.8px;background:#1aabfc"></div>
<div class="b" style="left:808.0px;top:1451.0px;width:211.0px;height:58.0px;background:#2edc5c"></div>
<div class="b" style="left:1019.0px;top:1451.0px;width:258.0px;height:58.0px;background:#978e2e"></div>
<div class="b" style="left:1277.0px;top:1451.0px;width:247.0px;height:58.0px;background:#18a0fa"></div>
<div class="b" style="left:1524.0px;top:1451.0px;width:247.0px;height:58.0px;background:#178ffa"></div>
<div class="b" style="left:1772.0px;top:1452.1px;width:21.3px;height:58.0px;background:#178ffa"></div>
<div class="b" style="left:1793.0px;top:1471.1px;width:21.3px;height:39.0px;background:#19a4fb"></div>
<div class="b" style="left:1814.0px;top:1464.2px;width:21.3px;height:45.9px;background:#189dfa"></div>
<div class="b" style="left:1835.0px;top:1462.3px;width:21.3px;height:47.8px;background:#189cfa"></div>
<div class="b" style="left:1856.0px;top:1461.3px;width:21.3px;height:48.8px;background:#189bfa"></div>
<div class="b" style="left:1877.0px;top:1465.4px;width:21.3px;height:44.7px;background:#189efa"></div>
<div class="b" style="left:1898.0px;top:1462.3px;width:21.3px;height:47.8px;background:#189cfa"></div>
<div class="b" style="left:1919.0px;top:1465.1px;width:21.3px;height:45.0px;background:#189efa"></div>
<div class="b" style="left:1940.0px;top:1463.2px;width:21.3px;height:46.9px;background:#189cfa"></div>
<div class="b" style="left:808.0px;top:1509.0px;width:211.0px;height:58.0px;background:#2fdb5b"></div>
<div class="b" style="left:1019.0px;top:1509.0px;width:258.0px;height:58.0px;background:#f24905"></div>
<div class="b" style="left:1277.0px;top:1509.0px;width:247.0px;height:58.0px;background:#1aa7fc"></div>
<div class="b" style="left:1524.0px;top:1509.0px;width:247.0px;height:58.0px;background:#1899fa"></div>
<div class="b" style="left:1772.0px;top:1520.3px;width:21.3px;height:47.8px;background:#18a1fa"></div>
<div class="b" style="left:1793.0px;top:1518.1px;width:21.3px;height:50.0px;background:#189ffa"></div>
<div class="b" style="left:1814.0px;top:1519.1px;width:21.3px;height:49.0px;background:#18a0fa"></div>
<div class="b" style="left:1835.0px;top:1518.1px;width:21.3px;height:50.0px;background:#189ffa"></div>
<div class="b" style="left:1856.0px;top:1510.3px;width:21.3px;height:57.8px;background:#1899fa"></div>
<div class="b" style="left:1877.0px;top:1530.2px;width:21.3px;height:37.9px;background:#1aa9fc"></div>
<div class="b" style="left:1898.0px;top:1537.1px;width:21.3px;height:31.0px;background:#1ab3f9"></div>
<div class="b" style="left:1919.0px;top:1529.3px;width:21.3px;height:38.8px;background:#1aa8fc"></div>
<div class="b" style="left:1940.0px;top:1534.2px;width:21.3px;height:33.9px;background:#1aaefc"></div>
<div class="b" style="left:808.0px;top:1567.0px;width:211.0px;height:58.0px;background:#08f96c"></div>
<div class="b" style="left:1019.0px;top:1567.0px;width:258.0px;height:58.0px;background:#25e35f"></div>
<div class="b" style="left:1277.0px;top:1567.0px;width:247.0px;height:58.0px;background:#18a0fa"></div>
<div class="b" style="left:1524.0px;top:1567.0px;width:247.0px;height:58.0px;background:#189dfa"></div>
<div class="b" style="left:1772.0px;top:1572.2px;width:21.3px;height:53.9px;background:#189ffa"></div>
<div class="b" style="left:1793.0px;top:1573.2px;width:21.3px;height:52.9px;background:#18a0fa"></div>
<div class="b" style="left:1814.0px;top:1571.3px;width:21.3px;height:54.8px;background:#189ffa"></div>
<div class="b" style="left:1835.0px;top:1572.6px;width:21.3px;height:53.5px;background:#18a0fa"></div>
<div class="b" style="left:1856.0px;top:1570.3px;width:21.3px;height:55.8px;background:#189efa"></div>
<div class="b" style="left:1877.0px;top:1575.1px;width:21.3px;height:51.0px;background:#18a2fa"></div>
<div class="b" style="left:1898.0px;top:1575.1px;width:21.3px;height:51.0px;background:#18a2fa"></div>
<div class="b" style="left:1919.0px;top:1568.1px;width:21.3px;height:58.0px;background:#189cfa"></div>
<div class="b" style="left:1940.0px;top:1572.2px;width:21.3px;height:53.9px;background:#189ffa"></div>
<div class="b" style="left:1961.0px;top:1575.1px;width:21.3px;height:51.0px;background:#18a2fa"></div>
<div class="b" style="left:1982.0px;top:1575.1px;width:8.6px;height:51.0px;background:#18a2fa"></div>
<div class="b" style="left:808.0px;top:1625.0px;width:211.0px;height:58.0px;background:#0df56a"></div>
<div class="b" style="left:1019.0px;top:1625.0px;width:258.0px;height:58.0px;background:#52c14c"></div>
<div class="b" style="left:1277.0px;top:1625.0px;width:247.0px;height:58.0px;background:#1ce9ca"></div>
<div class="b" style="left:1524.0px;top:1625.0px;width:247.0px;height:58.0px;background:#1cd2e1"></div>
<div class="b" style="left:1772.0px;top:1631.2px;width:21.3px;height:52.9px;background:#1cded5"></div>
<div class="b" style="left:1793.0px;top:1637.2px;width:21.3px;height:46.9px;background:#1cf6c0"></div>
<div class="b" style="left:1814.0px;top:1642.2px;width:21.3px;height:41.9px;background:#1cfaae"></div>
<div class="b" style="left:1835.0px;top:1631.2px;width:21.3px;height:52.9px;background:#1cded5"></div>
<div class="b" style="left:1856.0px;top:1632.1px;width:21.3px;height:52.0px;background:#1ce1d1"></div>
<div class="b" style="left:1877.0px;top:1633.1px;width:21.3px;height:51.0px;background:#1ce5cd"></div>
<div class="b" style="left:1898.0px;top:1627.3px;width:21.3px;height:56.8px;background:#1ccde4"></div>
<div class="b" style="left:1919.0px;top:1630.2px;width:21.3px;height:53.9px;background:#1cdad9"></div>
<div class="b" style="left:1940.0px;top:1631.2px;width:21.3px;height:52.9px;background:#1cded5"></div>
<div class="b" style="left:1961.0px;top:1633.1px;width:21.3px;height:51.0px;background:#1ce5cd"></div>
<div class="b" style="left:1982.0px;top:1633.1px;width:8.6px;height:51.0px;background:#1ce5cd"></div>
<div class="b" style="left:808.0px;top:1683.0px;width:211.0px;height:58.0px;background:#6bae41"></div>
<div class="b" style="left:1019.0px;top:1683.0px;width:258.0px;height:58.0px;background:#c26d1a"></div>
<div class="b" style="left:1277.0px;top:1683.0px;width:247.0px;height:58.0px;background:#1cf7c0"></div>
<div class="b" style="left:1524.0px;top:1683.0px;width:247.0px;height:58.0px;background:#1aadfc"></div>
<div class="b" style="left:1772.0px;top:1716.2px;width:21.3px;height:25.9px;background:#1ff278"></div>
<div class="b" style="left:1793.0px;top:1692.1px;width:21.3px;height:50.0px;background:#1ab6f6"></div>
<div class="b" style="left:1814.0px;top:1684.1px;width:21.3px;height:58.0px;background:#1aadfc"></div>
<div class="b" style="left:1835.0px;top:1686.0px;width:21.3px;height:56.1px;background:#1aaffc"></div>
<div class="b" style="left:1856.0px;top:1715.2px;width:21.3px;height:26.9px;background:#20f27c"></div>
<div class="b" style="left:1877.0px;top:1704.2px;width:21.3px;height:37.9px;background:#1cf2c3"></div>
<div class="b" style="left:1898.0px;top:1695.2px;width:21.3px;height:46.9px;background:#1cc3eb"></div>
<div class="b" style="left:1919.0px;top:1691.1px;width:21.3px;height:51.0px;background:#1ab4f8"></div>
<div class="b" style="left:1940.0px;top:1733.6px;width:21.3px;height:8.5px;background:#a3f0bf"></div>
<div class="b" style="left:808.0px;top:1741.0px;width:211.0px;height:58.0px;background:#3ad356"></div>
<div class="b" style="left:1019.0px;top:1741.0px;width:258.0px;height:58.0px;background:#a38528"></div>
<div class="b" style="left:1277.0px;top:1741.0px;width:247.0px;height:58.0px;background:#19a5fb"></div>
<div class="b" style="left:1524.0px;top:1741.0px;width:247.0px;height:58.0px;background:#189bfa"></div>
<div class="b" style="left:1772.0px;top:1742.5px;width:21.3px;height:57.6px;background:#189bfa"></div>
<div class="b" style="left:1793.0px;top:1752.0px;width:21.3px;height:48.1px;background:#19a3fb"></div>
<div class="b" style="left:1814.0px;top:1747.2px;width:21.3px;height:52.9px;background:#189ffa"></div>
<div class="b" style="left:1835.0px;top:1751.1px;width:21.3px;height:49.0px;background:#19a2fb"></div>
<div class="b" style="left:1856.0px;top:1756.2px;width:21.3px;height:43.9px;background:#19a6fb"></div>
<div class="b" style="left:1877.0px;top:1751.1px;width:21.3px;height:49.0px;background:#19a2fb"></div>
<div class="b" style="left:1898.0px;top:1754.2px;width:21.3px;height:45.9px;background:#19a4fb"></div>
<div class="b" style="left:1919.0px;top:1747.2px;width:21.3px;height:52.9px;background:#189ffa"></div>
<div class="b" style="left:1940.0px;top:1757.3px;width:21.3px;height:42.8px;background:#1aa7fc"></div>
<div class="b" style="left:808.0px;top:1799.0px;width:211.0px;height:58.0px;background:#0ff46a"></div>
<div class="b" style="left:1019.0px;top:1799.0px;width:258.0px;height:58.0px;background:#3cd256"></div>
<div class="b" style="left:1277.0px;top:1799.0px;width:247.0px;height:58.0px;background:#18a1fa"></div>
<div class="b" style="left:1524.0px;top:1799.0px;width:247.0px;height:58.0px;background:#1899fa"></div>
<div class="b" style="left:1772.0px;top:1829.3px;width:21.3px;height:28.8px;background:#1bbfee"></div>
<div class="b" style="left:1793.0px;top:1807.4px;width:21.3px;height:50.7px;background:#189efa"></div>
<div class="b" style="left:1814.0px;top:1800.1px;width:21.3px;height:58.0px;background:#1898fa"></div>
<div class="b" style="left:1835.0px;top:1808.1px;width:21.3px;height:50.0px;background:#189ffa"></div>
<div class="b" style="left:1856.0px;top:1815.1px;width:21.3px;height:43.0px;background:#19a5fb"></div>
<div class="b" style="left:1877.0px;top:1808.4px;width:21.3px;height:49.7px;background:#189ffa"></div>
<div class="b" style="left:1898.0px;top:1813.4px;width:21.3px;height:44.7px;background:#19a3fb"></div>
<div class="b" style="left:1919.0px;top:1811.3px;width:21.3px;height:46.8px;background:#18a2fa"></div>
<div class="b" style="left:1940.0px;top:1809.6px;width:21.3px;height:48.5px;background:#18a0fa"></div>
<div class="b" style="left:1961.0px;top:1806.5px;width:21.3px;height:51.6px;background:#189efa"></div>
<div class="b" style="left:1982.0px;top:1806.5px;width:8.6px;height:51.6px;background:#189efa"></div>
<div class="b" style="left:808.0px;top:1857.0px;width:211.0px;height:58.0px;background:#08f96d"></div>
<div class="b" style="left:1019.0px;top:1857.0px;width:258.0px;height:58.0px;background:#63b444"></div>
<div class="b" style="left:1277.0px;top:1857.0px;width:247.0px;height:58.0px;background:#19a3fb"></div>
<div class="b" style="left:1524.0px;top:1857.0px;width:247.0px;height:58.0px;background:#189dfa"></div>
<div class="b" style="left:1772.0px;top:1862.2px;width:21.3px;height:53.9px;background:#18a0fa"></div>
<div class="b" style="left:1793.0px;top:1858.4px;width:21.3px;height:57.7px;background:#189dfa"></div>
<div class="b" style="left:1814.0px;top:1869.2px;width:21.3px;height:46.9px;background:#19a5fb"></div>
<div class="b" style="left:1835.0px;top:1864.3px;width:21.3px;height:51.8px;background:#18a1fa"></div>
<div class="b" style="left:1856.0px;top:1866.2px;width:21.3px;height:49.9px;background:#19a3fb"></div>
<div class="b" style="left:1877.0px;top:1869.2px;width:21.3px;height:46.9px;background:#19a5fb"></div>
<div class="b" style="left:1898.0px;top:1866.2px;width:21.3px;height:49.9px;background:#19a3fb"></div>
<div class="b" style="left:1919.0px;top:1869.2px;width:21.3px;height:46.9px;background:#19a5fb"></div>
<div class="b" style="left:1940.0px;top:1868.1px;width:21.3px;height:48.0px;background:#19a4fb"></div>
<div class="b" style="left:1961.0px;top:1868.1px;width:21.3px;height:48.0px;background:#19a4fb"></div>
<div class="b" style="left:1982.0px;top:1868.1px;width:8.6px;height:48.0px;background:#19a4fb"></div>
<div class="b" style="left:808.0px;top:1915.0px;width:211.0px;height:58.0px;background:#3fd054"></div>
<div class="b" style="left:1019.0px;top:1915.0px;width:258.0px;height:58.0px;background:#b8751f"></div>
<div class="b" style="left:1277.0px;top:1915.0px;width:247.0px;height:58.0px;background:#1cc1ed"></div>
<div class="b" style="left:1524.0px;top:1915.0px;width:247.0px;height:58.0px;background:#1ab2fa"></div>
<div class="b" style="left:1772.0px;top:1916.1px;width:21.3px;height:58.0px;background:#1ab2fa"></div>
<div class="b" style="left:1793.0px;top:1925.3px;width:21.3px;height:48.8px;background:#1cd1e2"></div>
<div class="b" style="left:1814.0px;top:1920.2px;width:21.3px;height:53.9px;background:#1bbaf2"></div>
<div class="b" style="left:1835.0px;top:1923.1px;width:21.3px;height:51.0px;background:#1cc7e8"></div>
<div class="b" style="left:1856.0px;top:1921.2px;width:21.3px;height:52.9px;background:#1bbfee"></div>
<div class="b" style="left:1877.0px;top:1926.3px;width:21.3px;height:47.8px;background:#1cd6de"></div>
<div class="b" style="left:1898.0px;top:1928.2px;width:21.3px;height:45.9px;background:#1cdfd4"></div>
<div class="b" style="left:1919.0px;top:1918.0px;width:21.3px;height:56.1px;background:#1ab4f8"></div>
<div class="b" style="left:1940.0px;top:1919.0px;width:21.3px;height:55.1px;background:#1bb7f5"></div>
<div class="b" style="left:1961.0px;top:1921.2px;width:21.3px;height:52.9px;background:#1bbfee"></div>
<div class="b" style="left:1982.0px;top:1921.2px;width:8.6px;height:52.9px;background:#1bbfee"></div>
<div class="b" style="left:808.0px;top:1973.0px;width:211.0px;height:58.0px;background:#1cea64"></div>
<div class="b" style="left:1019.0px;top:1973.0px;width:258.0px;height:58.0px;background:#829e37"></div>
<div class="b" style="left:1277.0px;top:1973.0px;width:247.0px;height:58.0px;background:#1aa8fc"></div>
<div class="b" style="left:1524.0px;top:1973.0px;width:247.0px;height:58.0px;background:#189efa"></div>
<div class="b" style="left:1772.0px;top:2014.2px;width:21.3px;height:17.9px;background:#1ff278"></div>
<div class="b" style="left:1793.0px;top:1995.4px;width:21.3px;height:36.7px;background:#1ab0fc"></div>
<div class="b" style="left:1814.0px;top:1984.3px;width:21.3px;height:47.8px;background:#19a5fb"></div>
<div class="b" style="left:1835.0px;top:1977.3px;width:21.3px;height:54.8px;background:#18a0fa"></div>
<div class="b" style="left:1856.0px;top:1978.3px;width:21.3px;height:53.8px;background:#18a1fa"></div>
<div class="b" style="left:1877.0px;top:1989.3px;width:21.3px;height:42.8px;background:#1aa9fc"></div>
<div class="b" style="left:1898.0px;top:1976.2px;width:21.3px;height:55.9px;background:#189ffa"></div>
<div class="b" style="left:1919.0px;top:1974.3px;width:21.3px;height:57.8px;background:#189efa"></div>
<div class="b" style="left:1940.0px;top:1995.4px;width:21.3px;height:36.7px;background:#1ab0fc"></div>
<div class="b" style="left:1961.0px;top:1996.3px;width:21.3px;height:35.8px;background:#1ab2fa"></div>
<div class="b" style="left:1982.0px;top:1996.3px;width:8.6px;height:35.8px;background:#1ab2fa"></div>
<div class="b" style="left:808.0px;top:2031.0px;width:211.0px;height:56.9px;background:#12f268"></div>
<div class="b" style="left:1019.0px;top:2031.0px;width:258.0px;height:56.9px;background:#6dad40"></div>
<div class="b" style="left:1277.0px;top:2031.0px;width:247.0px;height:56.9px;background:#1cc0ed"></div>
<div class="b" style="left:1524.0px;top:2031.0px;width:247.0px;height:56.9px;background:#1795fa"></div>
<div class="b" style="left:1772.0px;top:2062.3px;width:21.3px;height:27.8px;background:#1bbaf2"></div>
<div class="b" style="left:1793.0px;top:2052.4px;width:21.3px;height:37.7px;background:#1aa7fc"></div>
<div class="b" style="left:1814.0px;top:2032.1px;width:21.3px;height:58.0px;background:#1794fa"></div>
<div class="b" style="left:1835.0px;top:2036.2px;width:21.3px;height:53.9px;background:#1899fa"></div>
<div class="b" style="left:1856.0px;top:2040.1px;width:21.3px;height:50.0px;background:#189dfa"></div>
<div class="b" style="left:1877.0px;top:2058.4px;width:21.3px;height:31.7px;background:#1aaffc"></div>
<div class="b" style="left:1772.0px;top:173.9px;width:21.3px;height:2.2px;background:rgba(255,255,255,.62)"></div>
<div class="b" style="left:1793.0px;top:173.9px;width:21.3px;height:2.2px;background:rgba(255,255,255,.62)"></div>
<div class="b" style="left:1814.0px;top:173.9px;width:21.3px;height:2.2px;background:rgba(255,255,255,.62)"></div>
<div class="b" style="left:1835.0px;top:173.9px;width:21.3px;height:2.2px;background:rgba(255,255,255,.62)"></div>
<div class="b" style="left:1856.0px;top:173.9px;width:21.3px;height:2.2px;background:rgba(255,255,255,.62)"></div>
<div class="b" style="left:1877.0px;top:173.9px;width:21.3px;height:2.2px;background:rgba(255,255,255,.62)"></div>
<div class="b" style="left:808.0px;top:173.9px;width:963.0px;height:2.2px;background:rgba(255,255,255,.62)"></div>
<div class="b" style="left:1772.0px;top:231.9px;width:21.3px;height:2.2px;background:rgba(255,255,255,.62)"></div>
<div class="b" style="left:1793.0px;top:231.9px;width:21.3px;height:2.2px;background:rgba(255,255,255,.62)"></div>
<div class="b" style="left:1814.0px;top:231.9px;width:21.3px;height:2.2px;background:rgba(255,255,255,.62)"></div>
<div class="b" style="left:1835.0px;top:231.9px;width:21.3px;height:2.2px;background:rgba(255,255,255,.62)"></div>
<div class="b" style="left:1856.0px;top:231.9px;width:21.3px;height:2.2px;background:rgba(255,255,255,.62)"></div>
<div class="b" style="left:1877.0px;top:231.9px;width:21.3px;height:2.2px;background:rgba(255,255,255,.62)"></div>
<div class="b" style="left:1898.0px;top:231.9px;width:21.3px;height:2.2px;background:rgba(255,255,255,.62)"></div>
<div class="b" style="left:1919.0px;top:231.9px;width:21.3px;height:2.2px;background:rgba(255,255,255,.62)"></div>
<div class="b" style="left:1940.0px;top:231.9px;width:21.3px;height:2.2px;background:rgba(255,255,255,.62)"></div>
<div class="b" style="left:1961.0px;top:231.9px;width:21.3px;height:2.2px;background:rgba(255,255,255,.62)"></div>
<div class="b" style="left:1982.0px;top:231.9px;width:8.6px;height:2.2px;background:rgba(255,255,255,.62)"></div>
<div class="b" style="left:808.0px;top:231.9px;width:963.0px;height:2.2px;background:rgba(255,255,255,.62)"></div>
<div class="b" style="left:1772.0px;top:289.9px;width:21.3px;height:2.2px;background:rgba(255,255,255,.62)"></div>
<div class="b" style="left:1793.0px;top:289.9px;width:21.3px;height:2.2px;background:rgba(255,255,255,.62)"></div>
<div class="b" style="left:1814.0px;top:289.9px;width:21.3px;height:2.2px;background:rgba(255,255,255,.62)"></div>
<div class="b" style="left:1835.0px;top:289.9px;width:21.3px;height:2.2px;background:rgba(255,255,255,.62)"></div>
<div class="b" style="left:1856.0px;top:289.9px;width:21.3px;height:2.2px;background:rgba(255,255,255,.62)"></div>
<div class="b" style="left:1877.0px;top:289.9px;width:21.3px;height:2.2px;background:rgba(255,255,255,.62)"></div>
<div class="b" style="left:1898.0px;top:289.9px;width:21.3px;height:2.2px;background:rgba(255,255,255,.62)"></div>
<div class="b" style="left:1919.0px;top:289.9px;width:21.3px;height:2.2px;background:rgba(255,255,255,.62)"></div>
<div class="b" style="left:1940.0px;top:289.9px;width:21.3px;height:2.2px;background:rgba(255,255,255,.62)"></div>
<div class="b" style="left:808.0px;top:289.9px;width:963.0px;height:2.2px;background:rgba(255,255,255,.62)"></div>
<div class="b" style="left:1772.0px;top:347.9px;width:21.3px;height:2.2px;background:rgba(255,255,255,.62)"></div>
<div class="b" style="left:1793.0px;top:347.9px;width:21.3px;height:2.2px;background:rgba(255,255,255,.62)"></div>
<div class="b" style="left:1814.0px;top:347.9px;width:21.3px;height:2.2px;background:rgba(255,255,255,.62)"></div>
<div class="b" style="left:1835.0px;top:347.9px;width:21.3px;height:2.2px;background:rgba(255,255,255,.62)"></div>
<div class="b" style="left:1856.0px;top:347.9px;width:21.3px;height:2.2px;background:rgba(255,255,255,.62)"></div>
<div class="b" style="left:1877.0px;top:347.9px;width:21.3px;height:2.2px;background:rgba(255,255,255,.62)"></div>
<div class="b" style="left:1898.0px;top:347.9px;width:21.3px;height:2.2px;background:rgba(255,255,255,.62)"></div>
<div class="b" style="left:808.0px;top:347.9px;width:963.0px;height:2.2px;background:rgba(255,255,255,.62)"></div>
<div class="b" style="left:1772.0px;top:405.9px;width:21.3px;height:2.2px;background:rgba(255,255,255,.62)"></div>
<div class="b" style="left:1793.0px;top:405.9px;width:21.3px;height:2.2px;background:rgba(255,255,255,.62)"></div>
<div class="b" style="left:1814.0px;top:405.9px;width:21.3px;height:2.2px;background:rgba(255,255,255,.62)"></div>
<div class="b" style="left:1835.0px;top:405.9px;width:21.3px;height:2.2px;background:rgba(255,255,255,.62)"></div>
<div class="b" style="left:1856.0px;top:405.9px;width:21.3px;height:2.2px;background:rgba(255,255,255,.62)"></div>
<div class="b" style="left:1877.0px;top:405.9px;width:21.3px;height:2.2px;background:rgba(255,255,255,.62)"></div>
<div class="b" style="left:1898.0px;top:405.9px;width:21.3px;height:2.2px;background:rgba(255,255,255,.62)"></div>
<div class="b" style="left:808.0px;top:405.9px;width:963.0px;height:2.2px;background:rgba(255,255,255,.62)"></div>
<div class="b" style="left:1772.0px;top:463.9px;width:21.3px;height:2.2px;background:rgba(255,255,255,.62)"></div>
<div class="b" style="left:1793.0px;top:463.9px;width:21.3px;height:2.2px;background:rgba(255,255,255,.62)"></div>
<div class="b" style="left:1814.0px;top:463.9px;width:21.3px;height:2.2px;background:rgba(255,255,255,.62)"></div>
<div class="b" style="left:1835.0px;top:463.9px;width:21.3px;height:2.2px;background:rgba(255,255,255,.62)"></div>
<div class="b" style="left:1856.0px;top:463.9px;width:21.3px;height:2.2px;background:rgba(255,255,255,.62)"></div>
<div class="b" style="left:1877.0px;top:463.9px;width:21.3px;height:2.2px;background:rgba(255,255,255,.62)"></div>
<div class="b" style="left:1898.0px;top:463.9px;width:21.3px;height:2.2px;background:rgba(255,255,255,.62)"></div>
<div class="b" style="left:1919.0px;top:463.9px;width:21.3px;height:2.2px;background:rgba(255,255,255,.62)"></div>
<div class="b" style="left:1940.0px;top:463.9px;width:21.3px;height:2.2px;background:rgba(255,255,255,.62)"></div>
<div class="b" style="left:1961.0px;top:463.9px;width:21.3px;height:2.2px;background:rgba(255,255,255,.62)"></div>
<div class="b" style="left:1982.0px;top:463.9px;width:8.6px;height:2.2px;background:rgba(255,255,255,.62)"></div>
<div class="b" style="left:808.0px;top:463.9px;width:963.0px;height:2.2px;background:rgba(255,255,255,.62)"></div>
<div class="b" style="left:1772.0px;top:521.9px;width:21.3px;height:2.2px;background:rgba(255,255,255,.62)"></div>
<div class="b" style="left:1793.0px;top:521.9px;width:21.3px;height:2.2px;background:rgba(255,255,255,.62)"></div>
<div class="b" style="left:1814.0px;top:521.9px;width:21.3px;height:2.2px;background:rgba(255,255,255,.62)"></div>
<div class="b" style="left:1835.0px;top:521.9px;width:21.3px;height:2.2px;background:rgba(255,255,255,.62)"></div>
<div class="b" style="left:1856.0px;top:521.9px;width:21.3px;height:2.2px;background:rgba(255,255,255,.62)"></div>
<div class="b" style="left:1877.0px;top:521.9px;width:21.3px;height:2.2px;background:rgba(255,255,255,.62)"></div>
<div class="b" style="left:1898.0px;top:521.9px;width:21.3px;height:2.2px;background:rgba(255,255,255,.62)"></div>
<div class="b" style="left:1919.0px;top:521.9px;width:21.3px;height:2.2px;background:rgba(255,255,255,.62)"></div>
<div class="b" style="left:808.0px;top:521.9px;width:963.0px;height:2.2px;background:rgba(255,255,255,.62)"></div>
<div class="b" style="left:1772.0px;top:579.9px;width:21.3px;height:2.2px;background:rgba(255,255,255,.62)"></div>
<div class="b" style="left:1793.0px;top:579.9px;width:21.3px;height:2.2px;background:rgba(255,255,255,.62)"></div>
<div class="b" style="left:1814.0px;top:579.9px;width:21.3px;height:2.2px;background:rgba(255,255,255,.62)"></div>
<div class="b" style="left:1835.0px;top:579.9px;width:21.3px;height:2.2px;background:rgba(255,255,255,.62)"></div>
<div class="b" style="left:1856.0px;top:579.9px;width:21.3px;height:2.2px;background:rgba(255,255,255,.62)"></div>
<div class="b" style="left:1877.0px;top:579.9px;width:21.3px;height:2.2px;background:rgba(255,255,255,.62)"></div>
<div class="b" style="left:1898.0px;top:579.9px;width:21.3px;height:2.2px;background:rgba(255,255,255,.62)"></div>
<div class="b" style="left:1919.0px;top:579.9px;width:21.3px;height:2.2px;background:rgba(255,255,255,.62)"></div>
<div class="b" style="left:1940.0px;top:579.9px;width:21.3px;height:2.2px;background:rgba(255,255,255,.62)"></div>
<div class="b" style="left:1961.0px;top:579.9px;width:21.3px;height:2.2px;background:rgba(255,255,255,.62)"></div>
<div class="b" style="left:1982.0px;top:579.9px;width:8.6px;height:2.2px;background:rgba(255,255,255,.62)"></div>
<div class="b" style="left:808.0px;top:579.9px;width:963.0px;height:2.2px;background:rgba(255,255,255,.62)"></div>
<div class="b" style="left:1772.0px;top:637.9px;width:21.3px;height:2.2px;background:rgba(255,255,255,.62)"></div>
<div class="b" style="left:1793.0px;top:637.9px;width:21.3px;height:2.2px;background:rgba(255,255,255,.62)"></div>
<div class="b" style="left:1814.0px;top:637.9px;width:21.3px;height:2.2px;background:rgba(255,255,255,.62)"></div>
<div class="b" style="left:1835.0px;top:637.9px;width:21.3px;height:2.2px;background:rgba(255,255,255,.62)"></div>
<div class="b" style="left:1856.0px;top:637.9px;width:21.3px;height:2.2px;background:rgba(255,255,255,.62)"></div>
<div class="b" style="left:1877.0px;top:637.9px;width:21.3px;height:2.2px;background:rgba(255,255,255,.62)"></div>
<div class="b" style="left:1898.0px;top:637.9px;width:21.3px;height:2.2px;background:rgba(255,255,255,.62)"></div>
<div class="b" style="left:1919.0px;top:637.9px;width:21.3px;height:2.2px;background:rgba(255,255,255,.62)"></div>
<div class="b" style="left:1940.0px;top:637.9px;width:21.3px;height:2.2px;background:rgba(255,255,255,.62)"></div>
<div class="b" style="left:808.0px;top:637.9px;width:963.0px;height:2.2px;background:rgba(255,255,255,.62)"></div>
<div class="b" style="left:1772.0px;top:695.9px;width:21.3px;height:2.2px;background:rgba(255,255,255,.62)"></div>
<div class="b" style="left:1793.0px;top:695.9px;width:21.3px;height:2.2px;background:rgba(255,255,255,.62)"></div>
<div class="b" style="left:1814.0px;top:695.9px;width:21.3px;height:2.2px;background:rgba(255,255,255,.62)"></div>
<div class="b" style="left:1835.0px;top:695.9px;width:21.3px;height:2.2px;background:rgba(255,255,255,.62)"></div>
<div class="b" style="left:1856.0px;top:695.9px;width:21.3px;height:2.2px;background:rgba(255,255,255,.62)"></div>
<div class="b" style="left:1877.0px;top:695.9px;width:21.3px;height:2.2px;background:rgba(255,255,255,.62)"></div>
<div class="b" style="left:1898.0px;top:695.9px;width:21.3px;height:2.2px;background:rgba(255,255,255,.62)"></div>
<div class="b" style="left:808.0px;top:695.9px;width:963.0px;height:2.2px;background:rgba(255,255,255,.62)"></div>
<div class="b" style="left:1772.0px;top:753.9px;width:21.3px;height:2.2px;background:rgba(255,255,255,.62)"></div>
<div class="b" style="left:1793.0px;top:753.9px;width:21.3px;height:2.2px;background:rgba(255,255,255,.62)"></div>
<div class="b" style="left:1814.0px;top:753.9px;width:21.3px;height:2.2px;background:rgba(255,255,255,.62)"></div>
<div class="b" style="left:1835.0px;top:753.9px;width:21.3px;height:2.2px;background:rgba(255,255,255,.62)"></div>
<div class="b" style="left:1856.0px;top:753.9px;width:21.3px;height:2.2px;background:rgba(255,255,255,.62)"></div>
<div class="b" style="left:1877.0px;top:753.9px;width:21.3px;height:2.2px;background:rgba(255,255,255,.62)"></div>
<div class="b" style="left:1898.0px;top:753.9px;width:21.3px;height:2.2px;background:rgba(255,255,255,.62)"></div>
<div class="b" style="left:1919.0px;top:753.9px;width:21.3px;height:2.2px;background:rgba(255,255,255,.62)"></div>
<div class="b" style="left:1940.0px;top:753.9px;width:21.3px;height:2.2px;background:rgba(255,255,255,.62)"></div>
<div class="b" style="left:1961.0px;top:753.9px;width:21.3px;height:2.2px;background:rgba(255,255,255,.62)"></div>
<div class="b" style="left:1982.0px;top:753.9px;width:8.6px;height:2.2px;background:rgba(255,255,255,.62)"></div>
<div class="b" style="left:808.0px;top:753.9px;width:963.0px;height:2.2px;background:rgba(255,255,255,.62)"></div>
<div class="b" style="left:1772.0px;top:811.9px;width:21.3px;height:2.2px;background:rgba(255,255,255,.62)"></div>
<div class="b" style="left:1793.0px;top:811.9px;width:21.3px;height:2.2px;background:rgba(255,255,255,.62)"></div>
<div class="b" style="left:1814.0px;top:811.9px;width:21.3px;height:2.2px;background:rgba(255,255,255,.62)"></div>
<div class="b" style="left:1835.0px;top:811.9px;width:21.3px;height:2.2px;background:rgba(255,255,255,.62)"></div>
<div class="b" style="left:1856.0px;top:811.9px;width:21.3px;height:2.2px;background:rgba(255,255,255,.62)"></div>
<div class="b" style="left:1877.0px;top:811.9px;width:21.3px;height:2.2px;background:rgba(255,255,255,.62)"></div>
<div class="b" style="left:808.0px;top:811.9px;width:963.0px;height:2.2px;background:rgba(255,255,255,.62)"></div>
<div class="b" style="left:1772.0px;top:869.9px;width:21.3px;height:2.2px;background:rgba(255,255,255,.62)"></div>
<div class="b" style="left:1793.0px;top:869.9px;width:21.3px;height:2.2px;background:rgba(255,255,255,.62)"></div>
<div class="b" style="left:1814.0px;top:869.9px;width:21.3px;height:2.2px;background:rgba(255,255,255,.62)"></div>
<div class="b" style="left:1835.0px;top:869.9px;width:21.3px;height:2.2px;background:rgba(255,255,255,.62)"></div>
<div class="b" style="left:1856.0px;top:869.9px;width:21.3px;height:2.2px;background:rgba(255,255,255,.62)"></div>
<div class="b" style="left:1877.0px;top:869.9px;width:21.3px;height:2.2px;background:rgba(255,255,255,.62)"></div>
<div class="b" style="left:1898.0px;top:869.9px;width:21.3px;height:2.2px;background:rgba(255,255,255,.62)"></div>
<div class="b" style="left:1919.0px;top:869.9px;width:21.3px;height:2.2px;background:rgba(255,255,255,.62)"></div>
<div class="b" style="left:1940.0px;top:869.9px;width:21.3px;height:2.2px;background:rgba(255,255,255,.62)"></div>
<div class="b" style="left:808.0px;top:869.9px;width:963.0px;height:2.2px;background:rgba(255,255,255,.62)"></div>
<div class="b" style="left:808.0px;top:927.9px;width:963.0px;height:2.2px;background:rgba(255,255,255,.62)"></div>
<div class="b" style="left:1772.0px;top:985.9px;width:21.3px;height:2.2px;background:rgba(255,255,255,.62)"></div>
<div class="b" style="left:1793.0px;top:985.9px;width:21.3px;height:2.2px;background:rgba(255,255,255,.62)"></div>
<div class="b" style="left:1814.0px;top:985.9px;width:21.3px;height:2.2px;background:rgba(255,255,255,.62)"></div>
<div class="b" style="left:1835.0px;top:985.9px;width:21.3px;height:2.2px;background:rgba(255,255,255,.62)"></div>
<div class="b" style="left:1856.0px;top:985.9px;width:21.3px;height:2.2px;background:rgba(255,255,255,.62)"></div>
<div class="b" style="left:1877.0px;top:985.9px;width:21.3px;height:2.2px;background:rgba(255,255,255,.62)"></div>
<div class="b" style="left:1898.0px;top:985.9px;width:21.3px;height:2.2px;background:rgba(255,255,255,.62)"></div>
<div class="b" style="left:1919.0px;top:985.9px;width:21.3px;height:2.2px;background:rgba(255,255,255,.62)"></div>
<div class="b" style="left:1940.0px;top:985.9px;width:21.3px;height:2.2px;background:rgba(255,255,255,.62)"></div>
<div class="b" style="left:1961.0px;top:985.9px;width:21.3px;height:2.2px;background:rgba(255,255,255,.62)"></div>
<div class="b" style="left:1982.0px;top:985.9px;width:8.6px;height:2.2px;background:rgba(255,255,255,.62)"></div>
<div class="b" style="left:808.0px;top:985.9px;width:963.0px;height:2.2px;background:rgba(255,255,255,.62)"></div>
<div class="b" style="left:1772.0px;top:1043.9px;width:21.3px;height:2.2px;background:rgba(255,255,255,.62)"></div>
<div class="b" style="left:1793.0px;top:1043.9px;width:21.3px;height:2.2px;background:rgba(255,255,255,.62)"></div>
<div class="b" style="left:1814.0px;top:1043.9px;width:21.3px;height:2.2px;background:rgba(255,255,255,.62)"></div>
<div class="b" style="left:1835.0px;top:1043.9px;width:21.3px;height:2.2px;background:rgba(255,255,255,.62)"></div>
<div class="b" style="left:1856.0px;top:1043.9px;width:21.3px;height:2.2px;background:rgba(255,255,255,.62)"></div>
<div class="b" style="left:1877.0px;top:1043.9px;width:21.3px;height:2.2px;background:rgba(255,255,255,.62)"></div>
<div class="b" style="left:1898.0px;top:1043.9px;width:21.3px;height:2.2px;background:rgba(255,255,255,.62)"></div>
<div class="b" style="left:1919.0px;top:1043.9px;width:21.3px;height:2.2px;background:rgba(255,255,255,.62)"></div>
<div class="b" style="left:1940.0px;top:1043.9px;width:21.3px;height:2.2px;background:rgba(255,255,255,.62)"></div>
<div class="b" style="left:1961.0px;top:1043.9px;width:21.3px;height:2.2px;background:rgba(255,255,255,.62)"></div>
<div class="b" style="left:1982.0px;top:1043.9px;width:8.6px;height:2.2px;background:rgba(255,255,255,.62)"></div>
<div class="b" style="left:808.0px;top:1043.9px;width:963.0px;height:2.2px;background:rgba(255,255,255,.62)"></div>
<div class="b" style="left:1772.0px;top:1101.9px;width:21.3px;height:2.2px;background:rgba(255,255,255,.62)"></div>
<div class="b" style="left:1793.0px;top:1101.9px;width:21.3px;height:2.2px;background:rgba(255,255,255,.62)"></div>
<div class="b" style="left:1814.0px;top:1101.9px;width:21.3px;height:2.2px;background:rgba(255,255,255,.62)"></div>
<div class="b" style="left:1835.0px;top:1101.9px;width:21.3px;height:2.2px;background:rgba(255,255,255,.62)"></div>
<div class="b" style="left:1856.0px;top:1101.9px;width:21.3px;height:2.2px;background:rgba(255,255,255,.62)"></div>
<div class="b" style="left:1877.0px;top:1101.9px;width:21.3px;height:2.2px;background:rgba(255,255,255,.62)"></div>
<div class="b" style="left:1898.0px;top:1101.9px;width:21.3px;height:2.2px;background:rgba(255,255,255,.62)"></div>
<div class="b" style="left:1919.0px;top:1101.9px;width:21.3px;height:2.2px;background:rgba(255,255,255,.62)"></div>
<div class="b" style="left:808.0px;top:1101.9px;width:963.0px;height:2.2px;background:rgba(255,255,255,.62)"></div>
<div class="b" style="left:1772.0px;top:1159.9px;width:21.3px;height:2.2px;background:rgba(255,255,255,.62)"></div>
<div class="b" style="left:1793.0px;top:1159.9px;width:21.3px;height:2.2px;background:rgba(255,255,255,.62)"></div>
<div class="b" style="left:1814.0px;top:1159.9px;width:21.3px;height:2.2px;background:rgba(255,255,255,.62)"></div>
<div class="b" style="left:1835.0px;top:1159.9px;width:21.3px;height:2.2px;background:rgba(255,255,255,.62)"></div>
<div class="b" style="left:1856.0px;top:1159.9px;width:21.3px;height:2.2px;background:rgba(255,255,255,.62)"></div>
<div class="b" style="left:1877.0px;top:1159.9px;width:21.3px;height:2.2px;background:rgba(255,255,255,.62)"></div>
<div class="b" style="left:1898.0px;top:1159.9px;width:21.3px;height:2.2px;background:rgba(255,255,255,.62)"></div>
<div class="b" style="left:1919.0px;top:1159.9px;width:21.3px;height:2.2px;background:rgba(255,255,255,.62)"></div>
<div class="b" style="left:1940.0px;top:1159.9px;width:21.3px;height:2.2px;background:rgba(255,255,255,.62)"></div>
<div class="b" style="left:1961.0px;top:1159.9px;width:21.3px;height:2.2px;background:rgba(255,255,255,.62)"></div>
<div class="b" style="left:1982.0px;top:1159.9px;width:8.6px;height:2.2px;background:rgba(255,255,255,.62)"></div>
<div class="b" style="left:808.0px;top:1159.9px;width:963.0px;height:2.2px;background:rgba(255,255,255,.62)"></div>
<div class="b" style="left:1772.0px;top:1217.9px;width:21.3px;height:2.2px;background:rgba(255,255,255,.62)"></div>
<div class="b" style="left:1793.0px;top:1217.9px;width:21.3px;height:2.2px;background:rgba(255,255,255,.62)"></div>
<div class="b" style="left:1814.0px;top:1217.9px;width:21.3px;height:2.2px;background:rgba(255,255,255,.62)"></div>
<div class="b" style="left:1835.0px;top:1217.9px;width:21.3px;height:2.2px;background:rgba(255,255,255,.62)"></div>
<div class="b" style="left:1856.0px;top:1217.9px;width:21.3px;height:2.2px;background:rgba(255,255,255,.62)"></div>
<div class="b" style="left:1877.0px;top:1217.9px;width:21.3px;height:2.2px;background:rgba(255,255,255,.62)"></div>
<div class="b" style="left:1898.0px;top:1217.9px;width:21.3px;height:2.2px;background:rgba(255,255,255,.62)"></div>
<div class="b" style="left:1919.0px;top:1217.9px;width:21.3px;height:2.2px;background:rgba(255,255,255,.62)"></div>
<div class="b" style="left:1940.0px;top:1217.9px;width:21.3px;height:2.2px;background:rgba(255,255,255,.62)"></div>
<div class="b" style="left:808.0px;top:1217.9px;width:963.0px;height:2.2px;background:rgba(255,255,255,.62)"></div>
<div class="b" style="left:1793.0px;top:1275.9px;width:21.3px;height:2.2px;background:rgba(255,255,255,.62)"></div>
<div class="b" style="left:1814.0px;top:1275.9px;width:21.3px;height:2.2px;background:rgba(255,255,255,.62)"></div>
<div class="b" style="left:1835.0px;top:1275.9px;width:21.3px;height:2.2px;background:rgba(255,255,255,.62)"></div>
<div class="b" style="left:1856.0px;top:1275.9px;width:21.3px;height:2.2px;background:rgba(255,255,255,.62)"></div>
<div class="b" style="left:1877.0px;top:1275.9px;width:21.3px;height:2.2px;background:rgba(255,255,255,.62)"></div>
<div class="b" style="left:1898.0px;top:1275.9px;width:21.3px;height:2.2px;background:rgba(255,255,255,.62)"></div>
<div class="b" style="left:1919.0px;top:1275.9px;width:21.3px;height:2.2px;background:rgba(255,255,255,.62)"></div>
<div class="b" style="left:808.0px;top:1275.9px;width:963.0px;height:2.2px;background:rgba(255,255,255,.62)"></div>
<div class="b" style="left:1772.0px;top:1333.9px;width:21.3px;height:2.2px;background:rgba(255,255,255,.62)"></div>
<div class="b" style="left:1793.0px;top:1333.9px;width:21.3px;height:2.2px;background:rgba(255,255,255,.62)"></div>
<div class="b" style="left:1814.0px;top:1333.9px;width:21.3px;height:2.2px;background:rgba(255,255,255,.62)"></div>
<div class="b" style="left:1835.0px;top:1333.9px;width:21.3px;height:2.2px;background:rgba(255,255,255,.62)"></div>
<div class="b" style="left:1856.0px;top:1333.9px;width:21.3px;height:2.2px;background:rgba(255,255,255,.62)"></div>
<div class="b" style="left:1877.0px;top:1333.9px;width:21.3px;height:2.2px;background:rgba(255,255,255,.62)"></div>
<div class="b" style="left:1898.0px;top:1333.9px;width:21.3px;height:2.2px;background:rgba(255,255,255,.62)"></div>
<div class="b" style="left:1919.0px;top:1333.9px;width:21.3px;height:2.2px;background:rgba(255,255,255,.62)"></div>
<div class="b" style="left:1940.0px;top:1333.9px;width:21.3px;height:2.2px;background:rgba(255,255,255,.62)"></div>
<div class="b" style="left:1961.0px;top:1333.9px;width:21.3px;height:2.2px;background:rgba(255,255,255,.62)"></div>
<div class="b" style="left:1982.0px;top:1333.9px;width:8.6px;height:2.2px;background:rgba(255,255,255,.62)"></div>
<div class="b" style="left:808.0px;top:1333.9px;width:963.0px;height:2.2px;background:rgba(255,255,255,.62)"></div>
<div class="b" style="left:1772.0px;top:1391.9px;width:21.3px;height:2.2px;background:rgba(255,255,255,.62)"></div>
<div class="b" style="left:1793.0px;top:1391.9px;width:21.3px;height:2.2px;background:rgba(255,255,255,.62)"></div>
<div class="b" style="left:1814.0px;top:1391.9px;width:21.3px;height:2.2px;background:rgba(255,255,255,.62)"></div>
<div class="b" style="left:1835.0px;top:1391.9px;width:21.3px;height:2.2px;background:rgba(255,255,255,.62)"></div>
<div class="b" style="left:1856.0px;top:1391.9px;width:21.3px;height:2.2px;background:rgba(255,255,255,.62)"></div>
<div class="b" style="left:808.0px;top:1391.9px;width:963.0px;height:2.2px;background:rgba(255,255,255,.62)"></div>
<div class="b" style="left:1772.0px;top:1449.9px;width:21.3px;height:2.2px;background:rgba(255,255,255,.62)"></div>
<div class="b" style="left:1793.0px;top:1449.9px;width:21.3px;height:2.2px;background:rgba(255,255,255,.62)"></div>
<div class="b" style="left:1814.0px;top:1449.9px;width:21.3px;height:2.2px;background:rgba(255,255,255,.62)"></div>
<div class="b" style="left:1835.0px;top:1449.9px;width:21.3px;height:2.2px;background:rgba(255,255,255,.62)"></div>
<div class="b" style="left:1856.0px;top:1449.9px;width:21.3px;height:2.2px;background:rgba(255,255,255,.62)"></div>
<div class="b" style="left:1877.0px;top:1449.9px;width:21.3px;height:2.2px;background:rgba(255,255,255,.62)"></div>
<div class="b" style="left:1898.0px;top:1449.9px;width:21.3px;height:2.2px;background:rgba(255,255,255,.62)"></div>
<div class="b" style="left:1919.0px;top:1449.9px;width:21.3px;height:2.2px;background:rgba(255,255,255,.62)"></div>
<div class="b" style="left:1940.0px;top:1449.9px;width:21.3px;height:2.2px;background:rgba(255,255,255,.62)"></div>
<div class="b" style="left:1961.0px;top:1449.9px;width:21.3px;height:2.2px;background:rgba(255,255,255,.62)"></div>
<div class="b" style="left:1982.0px;top:1449.9px;width:8.6px;height:2.2px;background:rgba(255,255,255,.62)"></div>
<div class="b" style="left:808.0px;top:1449.9px;width:963.0px;height:2.2px;background:rgba(255,255,255,.62)"></div>
<div class="b" style="left:1772.0px;top:1507.9px;width:21.3px;height:2.2px;background:rgba(255,255,255,.62)"></div>
<div class="b" style="left:1793.0px;top:1507.9px;width:21.3px;height:2.2px;background:rgba(255,255,255,.62)"></div>
<div class="b" style="left:1814.0px;top:1507.9px;width:21.3px;height:2.2px;background:rgba(255,255,255,.62)"></div>
<div class="b" style="left:1835.0px;top:1507.9px;width:21.3px;height:2.2px;background:rgba(255,255,255,.62)"></div>
<div class="b" style="left:1856.0px;top:1507.9px;width:21.3px;height:2.2px;background:rgba(255,255,255,.62)"></div>
<div class="b" style="left:1877.0px;top:1507.9px;width:21.3px;height:2.2px;background:rgba(255,255,255,.62)"></div>
<div class="b" style="left:1898.0px;top:1507.9px;width:21.3px;height:2.2px;background:rgba(255,255,255,.62)"></div>
<div class="b" style="left:1919.0px;top:1507.9px;width:21.3px;height:2.2px;background:rgba(255,255,255,.62)"></div>
<div class="b" style="left:1940.0px;top:1507.9px;width:21.3px;height:2.2px;background:rgba(255,255,255,.62)"></div>
<div class="b" style="left:808.0px;top:1507.9px;width:963.0px;height:2.2px;background:rgba(255,255,255,.62)"></div>
<div class="b" style="left:1772.0px;top:1565.9px;width:21.3px;height:2.2px;background:rgba(255,255,255,.62)"></div>
<div class="b" style="left:1793.0px;top:1565.9px;width:21.3px;height:2.2px;background:rgba(255,255,255,.62)"></div>
<div class="b" style="left:1814.0px;top:1565.9px;width:21.3px;height:2.2px;background:rgba(255,255,255,.62)"></div>
<div class="b" style="left:1835.0px;top:1565.9px;width:21.3px;height:2.2px;background:rgba(255,255,255,.62)"></div>
<div class="b" style="left:1856.0px;top:1565.9px;width:21.3px;height:2.2px;background:rgba(255,255,255,.62)"></div>
<div class="b" style="left:1877.0px;top:1565.9px;width:21.3px;height:2.2px;background:rgba(255,255,255,.62)"></div>
<div class="b" style="left:1898.0px;top:1565.9px;width:21.3px;height:2.2px;background:rgba(255,255,255,.62)"></div>
<div class="b" style="left:1919.0px;top:1565.9px;width:21.3px;height:2.2px;background:rgba(255,255,255,.62)"></div>
<div class="b" style="left:1940.0px;top:1565.9px;width:21.3px;height:2.2px;background:rgba(255,255,255,.62)"></div>
<div class="b" style="left:808.0px;top:1565.9px;width:963.0px;height:2.2px;background:rgba(255,255,255,.62)"></div>
<div class="b" style="left:1772.0px;top:1623.9px;width:21.3px;height:2.2px;background:rgba(255,255,255,.62)"></div>
<div class="b" style="left:1793.0px;top:1623.9px;width:21.3px;height:2.2px;background:rgba(255,255,255,.62)"></div>
<div class="b" style="left:1814.0px;top:1623.9px;width:21.3px;height:2.2px;background:rgba(255,255,255,.62)"></div>
<div class="b" style="left:1835.0px;top:1623.9px;width:21.3px;height:2.2px;background:rgba(255,255,255,.62)"></div>
<div class="b" style="left:1856.0px;top:1623.9px;width:21.3px;height:2.2px;background:rgba(255,255,255,.62)"></div>
<div class="b" style="left:1877.0px;top:1623.9px;width:21.3px;height:2.2px;background:rgba(255,255,255,.62)"></div>
<div class="b" style="left:1898.0px;top:1623.9px;width:21.3px;height:2.2px;background:rgba(255,255,255,.62)"></div>
<div class="b" style="left:1919.0px;top:1623.9px;width:21.3px;height:2.2px;background:rgba(255,255,255,.62)"></div>
<div class="b" style="left:1940.0px;top:1623.9px;width:21.3px;height:2.2px;background:rgba(255,255,255,.62)"></div>
<div class="b" style="left:1961.0px;top:1623.9px;width:21.3px;height:2.2px;background:rgba(255,255,255,.62)"></div>
<div class="b" style="left:1982.0px;top:1623.9px;width:8.6px;height:2.2px;background:rgba(255,255,255,.62)"></div>
<div class="b" style="left:808.0px;top:1623.9px;width:963.0px;height:2.2px;background:rgba(255,255,255,.62)"></div>
<div class="b" style="left:1772.0px;top:1681.9px;width:21.3px;height:2.2px;background:rgba(255,255,255,.62)"></div>
<div class="b" style="left:1793.0px;top:1681.9px;width:21.3px;height:2.2px;background:rgba(255,255,255,.62)"></div>
<div class="b" style="left:1814.0px;top:1681.9px;width:21.3px;height:2.2px;background:rgba(255,255,255,.62)"></div>
<div class="b" style="left:1835.0px;top:1681.9px;width:21.3px;height:2.2px;background:rgba(255,255,255,.62)"></div>
<div class="b" style="left:1856.0px;top:1681.9px;width:21.3px;height:2.2px;background:rgba(255,255,255,.62)"></div>
<div class="b" style="left:1877.0px;top:1681.9px;width:21.3px;height:2.2px;background:rgba(255,255,255,.62)"></div>
<div class="b" style="left:1898.0px;top:1681.9px;width:21.3px;height:2.2px;background:rgba(255,255,255,.62)"></div>
<div class="b" style="left:1919.0px;top:1681.9px;width:21.3px;height:2.2px;background:rgba(255,255,255,.62)"></div>
<div class="b" style="left:1940.0px;top:1681.9px;width:21.3px;height:2.2px;background:rgba(255,255,255,.62)"></div>
<div class="b" style="left:1961.0px;top:1681.9px;width:21.3px;height:2.2px;background:rgba(255,255,255,.62)"></div>
<div class="b" style="left:1982.0px;top:1681.9px;width:8.6px;height:2.2px;background:rgba(255,255,255,.62)"></div>
<div class="b" style="left:808.0px;top:1681.9px;width:963.0px;height:2.2px;background:rgba(255,255,255,.62)"></div>
<div class="b" style="left:1772.0px;top:1739.9px;width:21.3px;height:2.2px;background:rgba(255,255,255,.62)"></div>
<div class="b" style="left:1793.0px;top:1739.9px;width:21.3px;height:2.2px;background:rgba(255,255,255,.62)"></div>
<div class="b" style="left:1814.0px;top:1739.9px;width:21.3px;height:2.2px;background:rgba(255,255,255,.62)"></div>
<div class="b" style="left:1835.0px;top:1739.9px;width:21.3px;height:2.2px;background:rgba(255,255,255,.62)"></div>
<div class="b" style="left:1856.0px;top:1739.9px;width:21.3px;height:2.2px;background:rgba(255,255,255,.62)"></div>
<div class="b" style="left:1877.0px;top:1739.9px;width:21.3px;height:2.2px;background:rgba(255,255,255,.62)"></div>
<div class="b" style="left:1898.0px;top:1739.9px;width:21.3px;height:2.2px;background:rgba(255,255,255,.62)"></div>
<div class="b" style="left:1919.0px;top:1739.9px;width:21.3px;height:2.2px;background:rgba(255,255,255,.62)"></div>
<div class="b" style="left:1940.0px;top:1739.9px;width:21.3px;height:2.2px;background:rgba(255,255,255,.62)"></div>
<div class="b" style="left:808.0px;top:1739.9px;width:963.0px;height:2.2px;background:rgba(255,255,255,.62)"></div>
<div class="b" style="left:1772.0px;top:1797.9px;width:21.3px;height:2.2px;background:rgba(255,255,255,.62)"></div>
<div class="b" style="left:1793.0px;top:1797.9px;width:21.3px;height:2.2px;background:rgba(255,255,255,.62)"></div>
<div class="b" style="left:1814.0px;top:1797.9px;width:21.3px;height:2.2px;background:rgba(255,255,255,.62)"></div>
<div class="b" style="left:1835.0px;top:1797.9px;width:21.3px;height:2.2px;background:rgba(255,255,255,.62)"></div>
<div class="b" style="left:1856.0px;top:1797.9px;width:21.3px;height:2.2px;background:rgba(255,255,255,.62)"></div>
<div class="b" style="left:1877.0px;top:1797.9px;width:21.3px;height:2.2px;background:rgba(255,255,255,.62)"></div>
<div class="b" style="left:1898.0px;top:1797.9px;width:21.3px;height:2.2px;background:rgba(255,255,255,.62)"></div>
<div class="b" style="left:1919.0px;top:1797.9px;width:21.3px;height:2.2px;background:rgba(255,255,255,.62)"></div>
<div class="b" style="left:1940.0px;top:1797.9px;width:21.3px;height:2.2px;background:rgba(255,255,255,.62)"></div>
<div class="b" style="left:808.0px;top:1797.9px;width:963.0px;height:2.2px;background:rgba(255,255,255,.62)"></div>
<div class="b" style="left:1772.0px;top:1855.9px;width:21.3px;height:2.2px;background:rgba(255,255,255,.62)"></div>
<div class="b" style="left:1793.0px;top:1855.9px;width:21.3px;height:2.2px;background:rgba(255,255,255,.62)"></div>
<div class="b" style="left:1814.0px;top:1855.9px;width:21.3px;height:2.2px;background:rgba(255,255,255,.62)"></div>
<div class="b" style="left:1835.0px;top:1855.9px;width:21.3px;height:2.2px;background:rgba(255,255,255,.62)"></div>
<div class="b" style="left:1856.0px;top:1855.9px;width:21.3px;height:2.2px;background:rgba(255,255,255,.62)"></div>
<div class="b" style="left:1877.0px;top:1855.9px;width:21.3px;height:2.2px;background:rgba(255,255,255,.62)"></div>
<div class="b" style="left:1898.0px;top:1855.9px;width:21.3px;height:2.2px;background:rgba(255,255,255,.62)"></div>
<div class="b" style="left:1919.0px;top:1855.9px;width:21.3px;height:2.2px;background:rgba(255,255,255,.62)"></div>
<div class="b" style="left:1940.0px;top:1855.9px;width:21.3px;height:2.2px;background:rgba(255,255,255,.62)"></div>
<div class="b" style="left:1961.0px;top:1855.9px;width:21.3px;height:2.2px;background:rgba(255,255,255,.62)"></div>
<div class="b" style="left:1982.0px;top:1855.9px;width:8.6px;height:2.2px;background:rgba(255,255,255,.62)"></div>
<div class="b" style="left:808.0px;top:1855.9px;width:963.0px;height:2.2px;background:rgba(255,255,255,.62)"></div>
<div class="b" style="left:1772.0px;top:1913.9px;width:21.3px;height:2.2px;background:rgba(255,255,255,.62)"></div>
<div class="b" style="left:1793.0px;top:1913.9px;width:21.3px;height:2.2px;background:rgba(255,255,255,.62)"></div>
<div class="b" style="left:1814.0px;top:1913.9px;width:21.3px;height:2.2px;background:rgba(255,255,255,.62)"></div>
<div class="b" style="left:1835.0px;top:1913.9px;width:21.3px;height:2.2px;background:rgba(255,255,255,.62)"></div>
<div class="b" style="left:1856.0px;top:1913.9px;width:21.3px;height:2.2px;background:rgba(255,255,255,.62)"></div>
<div class="b" style="left:1877.0px;top:1913.9px;width:21.3px;height:2.2px;background:rgba(255,255,255,.62)"></div>
<div class="b" style="left:1898.0px;top:1913.9px;width:21.3px;height:2.2px;background:rgba(255,255,255,.62)"></div>
<div class="b" style="left:1919.0px;top:1913.9px;width:21.3px;height:2.2px;background:rgba(255,255,255,.62)"></div>
<div class="b" style="left:1940.0px;top:1913.9px;width:21.3px;height:2.2px;background:rgba(255,255,255,.62)"></div>
<div class="b" style="left:1961.0px;top:1913.9px;width:21.3px;height:2.2px;background:rgba(255,255,255,.62)"></div>
<div class="b" style="left:1982.0px;top:1913.9px;width:8.6px;height:2.2px;background:rgba(255,255,255,.62)"></div>
<div class="b" style="left:808.0px;top:1913.9px;width:963.0px;height:2.2px;background:rgba(255,255,255,.62)"></div>
<div class="b" style="left:1772.0px;top:1971.9px;width:21.3px;height:2.2px;background:rgba(255,255,255,.62)"></div>
<div class="b" style="left:1793.0px;top:1971.9px;width:21.3px;height:2.2px;background:rgba(255,255,255,.62)"></div>
<div class="b" style="left:1814.0px;top:1971.9px;width:21.3px;height:2.2px;background:rgba(255,255,255,.62)"></div>
<div class="b" style="left:1835.0px;top:1971.9px;width:21.3px;height:2.2px;background:rgba(255,255,255,.62)"></div>
<div class="b" style="left:1856.0px;top:1971.9px;width:21.3px;height:2.2px;background:rgba(255,255,255,.62)"></div>
<div class="b" style="left:1877.0px;top:1971.9px;width:21.3px;height:2.2px;background:rgba(255,255,255,.62)"></div>
<div class="b" style="left:1898.0px;top:1971.9px;width:21.3px;height:2.2px;background:rgba(255,255,255,.62)"></div>
<div class="b" style="left:1919.0px;top:1971.9px;width:21.3px;height:2.2px;background:rgba(255,255,255,.62)"></div>
<div class="b" style="left:1940.0px;top:1971.9px;width:21.3px;height:2.2px;background:rgba(255,255,255,.62)"></div>
<div class="b" style="left:1961.0px;top:1971.9px;width:21.3px;height:2.2px;background:rgba(255,255,255,.62)"></div>
<div class="b" style="left:1982.0px;top:1971.9px;width:8.6px;height:2.2px;background:rgba(255,255,255,.62)"></div>
<div class="b" style="left:808.0px;top:1971.9px;width:963.0px;height:2.2px;background:rgba(255,255,255,.62)"></div>
<div class="b" style="left:1772.0px;top:2029.9px;width:21.3px;height:2.2px;background:rgba(255,255,255,.62)"></div>
<div class="b" style="left:1793.0px;top:2029.9px;width:21.3px;height:2.2px;background:rgba(255,255,255,.62)"></div>
<div class="b" style="left:1814.0px;top:2029.9px;width:21.3px;height:2.2px;background:rgba(255,255,255,.62)"></div>
<div class="b" style="left:1835.0px;top:2029.9px;width:21.3px;height:2.2px;background:rgba(255,255,255,.62)"></div>
<div class="b" style="left:1856.0px;top:2029.9px;width:21.3px;height:2.2px;background:rgba(255,255,255,.62)"></div>
<div class="b" style="left:1877.0px;top:2029.9px;width:21.3px;height:2.2px;background:rgba(255,255,255,.62)"></div>
<div class="b" style="left:1898.0px;top:2029.9px;width:21.3px;height:2.2px;background:rgba(255,255,255,.62)"></div>
<div class="b" style="left:1919.0px;top:2029.9px;width:21.3px;height:2.2px;background:rgba(255,255,255,.62)"></div>
<div class="b" style="left:1940.0px;top:2029.9px;width:21.3px;height:2.2px;background:rgba(255,255,255,.62)"></div>
<div class="b" style="left:1961.0px;top:2029.9px;width:21.3px;height:2.2px;background:rgba(255,255,255,.62)"></div>
<div class="b" style="left:1982.0px;top:2029.9px;width:8.6px;height:2.2px;background:rgba(255,255,255,.62)"></div>
<div class="b" style="left:808.0px;top:2029.9px;width:963.0px;height:2.2px;background:rgba(255,255,255,.62)"></div>
<div class="b" style="left:1772.0px;top:2087.9px;width:21.3px;height:2.2px;background:rgba(255,255,255,.62)"></div>
<div class="b" style="left:1793.0px;top:2087.9px;width:21.3px;height:2.2px;background:rgba(255,255,255,.62)"></div>
<div class="b" style="left:1814.0px;top:2087.9px;width:21.3px;height:2.2px;background:rgba(255,255,255,.62)"></div>
<div class="b" style="left:1835.0px;top:2087.9px;width:21.3px;height:2.2px;background:rgba(255,255,255,.62)"></div>
<div class="b" style="left:1856.0px;top:2087.9px;width:21.3px;height:2.2px;background:rgba(255,255,255,.62)"></div>
<div class="b" style="left:1877.0px;top:2087.9px;width:21.3px;height:2.2px;background:rgba(255,255,255,.62)"></div>
<div class="b" style="left:152.9px;top:57.9px;width:2.2px;height:58.0px;background:#ebebeb"></div>
<div class="b" style="left:152.9px;top:118.1px;width:2.2px;height:1969.8px;background:#ffffff"></div>
<div class="b" style="left:602.9px;top:57.9px;width:2.2px;height:58.0px;background:#ebebeb"></div>
<div class="b" style="left:602.9px;top:118.1px;width:2.2px;height:1969.8px;background:#ffffff"></div>
<div class="b" style="left:806.9px;top:57.9px;width:2.2px;height:58.0px;background:#ebebeb"></div>
<div class="b" style="left:806.9px;top:118.1px;width:2.2px;height:1969.8px;background:#ffffff"></div>
<div class="b" style="left:1017.9px;top:57.9px;width:2.2px;height:58.0px;background:#ebebeb"></div>
<div class="b" style="left:1017.9px;top:118.1px;width:2.2px;height:1969.8px;background:rgba(255,255,255,.86)"></div>
<div class="b" style="left:1275.9px;top:57.9px;width:2.2px;height:58.0px;background:#ebebeb"></div>
<div class="b" style="left:1275.9px;top:118.1px;width:2.2px;height:1969.8px;background:rgba(255,255,255,.86)"></div>
<div class="b" style="left:1522.9px;top:57.9px;width:2.2px;height:58.0px;background:#ebebeb"></div>
<div class="b" style="left:1522.9px;top:118.1px;width:2.2px;height:1969.8px;background:rgba(255,255,255,.86)"></div>
<div class="b" style="left:1769.9px;top:57.9px;width:2.2px;height:58.0px;background:#ebebeb"></div>
<div class="b" style="left:1769.9px;top:118.1px;width:2.2px;height:1969.8px;background:#ffffff"></div>
<div class="t tt" style="left:590.91px;top:0.0px"><span class="r" style="transform:scaleX(1.000);margin-right:-0.00px">*.sbs-4099</span></div>
<div class="t tt" style="left:776.78px;top:0.0px"><span class="r" style="transform:scaleX(1.000);margin-right:-0.00px">-</span></div>
<div class="t tt" style="left:799.19px;top:0.0px"><span class="r" style="transform:scaleX(1.040);margin-right:4.95px">MiaoKo</span></div>
<div class="t tt" style="left:937.91px;top:0.0px"><i class="c">自</i><i class="c">定</i><i class="c">义</i><i class="c">测</i><i class="c">试</i></div>
<div class="t tt" style="left:1121.74px;top:0.0px"><span class="r" style="transform:scaleX(1.000);margin-right:-0.00px">|</span></div>
<div class="t tt" style="left:1141.98px;top:0.0px"><span class="r" style="transform:scaleX(1.000);margin-right:-0.00px">speed</span></div>
<div class="t tt" style="left:1253.68px;top:0.0px"><span class="r" style="transform:scaleX(1.000);margin-right:-0.00px">-</span></div>
<div class="t tt" style="left:1277.82px;top:0.0px"><i class="c">订</i><i class="c">阅</i><i class="c">速</i><i class="c">度</i></div>
<div class="t h" style="left:42.45px;top:59.0px"><i class="c">序</i><i class="c">号</i></div>
<div class="t h" style="left:309.37px;top:59.0px"><i class="c">节</i><i class="c">点</i><i class="c">名</i><i class="c">称</i></div>
<div class="t h" style="left:671.34px;top:59.0px"><i class="c">类</i><i class="c">型</i></div>
<div class="t h" style="left:849.61px;top:59.0px"><span class="r" style="transform:scaleX(0.850);margin-right:-23.12px">TLS RTT</span></div>
<div class="t h" style="left:1059.01px;top:59.0px"><span class="r" style="transform:scaleX(0.865);margin-right:-16.82px">HTTPS</span><i class="c">延</i><i class="c">迟</i></div>
<div class="t h" style="left:1331.35px;top:59.0px"><i class="c">平</i><i class="c">均</i><i class="c">速</i><i class="c">度</i></div>
<div class="t h" style="left:1578.44px;top:59.0px"><i class="c">最</i><i class="c">高</i><i class="c">速</i><i class="c">度</i></div>
<div class="t h" style="left:1812.23px;top:59.0px"><i class="c">每</i><i class="c">秒</i><i class="c">速</i><i class="c">度</i></div>
<div class="t n" style="left:66.33px;top:117.0px"><span class="r" style="transform:scaleX(0.962);margin-right:-0.80px">1</span></div>
<div class="t l" style="left:173.08px;top:117.0px"><i class="c">香</i><i class="c">港</i><span class="r" style="transform:scaleX(0.968);margin-right:-1.69px">01[</span><i class="c">中</i><i class="c">转</i><span class="r" style="transform:scaleX(0.968);margin-right:-2.64px">]1.0x</span></div>
<div class="t y" style="left:645.26px;top:117.0px"><span class="r" style="transform:scaleX(0.910);margin-right:-12.17px">AnyTLS</span></div>
<div class="t d" style="left:907.41px;top:117.0px"><span class="r" style="transform:scaleX(0.962);margin-right:-0.48px">-</span></div>
<div class="t d" style="left:1141.91px;top:117.0px"><span class="r" style="transform:scaleX(0.962);margin-right:-0.48px">-</span></div>
<div class="t s" style="left:1328.90px;top:117.0px"><span class="r" style="transform:scaleX(0.955);margin-right:-6.84px">76.24MB</span></div>
<div class="t s" style="left:1566.36px;top:117.0px"><span class="r" style="transform:scaleX(0.955);margin-right:-7.80px">144.31MB</span></div>
<div class="t n" style="left:66.83px;top:175.0px"><span class="r" style="transform:scaleX(0.962);margin-right:-0.80px">2</span></div>
<div class="t l" style="left:173.08px;top:175.0px"><i class="c">香</i><i class="c">港</i><span class="r" style="transform:scaleX(0.968);margin-right:-1.69px">02[</span><i class="c">专</i><i class="c">线</i><span class="r" style="transform:scaleX(0.968);margin-right:-2.64px">]2.0x</span></div>
<div class="t y" style="left:645.26px;top:175.0px"><span class="r" style="transform:scaleX(0.910);margin-right:-12.17px">AnyTLS</span></div>
<div class="t d" style="left:907.41px;top:175.0px"><span class="r" style="transform:scaleX(0.962);margin-right:-0.48px">-</span></div>
<div class="t d" style="left:1141.91px;top:175.0px"><span class="r" style="transform:scaleX(0.962);margin-right:-0.48px">-</span></div>
<div class="t s" style="left:1328.45px;top:175.0px"><span class="r" style="transform:scaleX(0.955);margin-right:-6.84px">15.37MB</span></div>
<div class="t s" style="left:1576.92px;top:175.0px"><span class="r" style="transform:scaleX(0.955);margin-right:-6.84px">20.48MB</span></div>
<div class="t n" style="left:66.94px;top:233.0px"><span class="r" style="transform:scaleX(0.962);margin-right:-0.80px">3</span></div>
<div class="t l" style="left:173.08px;top:233.0px"><i class="c">台</i><i class="c">湾</i><span class="r" style="transform:scaleX(0.968);margin-right:-1.69px">01[</span><i class="c">中</i><i class="c">转</i><span class="r" style="transform:scaleX(0.968);margin-right:-2.64px">]1.0x</span></div>
<div class="t y" style="left:645.26px;top:233.0px"><span class="r" style="transform:scaleX(0.910);margin-right:-12.17px">AnyTLS</span></div>
<div class="t d" style="left:857.91px;top:233.0px"><span class="r" style="transform:scaleX(0.962);margin-right:-4.33px">165ms</span></div>
<div class="t d" style="left:1092.86px;top:233.0px"><span class="r" style="transform:scaleX(0.962);margin-right:-4.33px">708ms</span></div>
<div class="t s" style="left:1329.42px;top:233.0px"><span class="r" style="transform:scaleX(0.955);margin-right:-6.84px">40.14MB</span></div>
<div class="t s" style="left:1577.11px;top:233.0px"><span class="r" style="transform:scaleX(0.955);margin-right:-6.84px">52.33MB</span></div>
<div class="t n" style="left:66.95px;top:291.0px"><span class="r" style="transform:scaleX(0.962);margin-right:-0.80px">4</span></div>
<div class="t l" style="left:173.08px;top:291.0px"><i class="c">日</i><i class="c">本</i><span class="r" style="transform:scaleX(0.968);margin-right:-1.69px">01[</span><i class="c">中</i><i class="c">转</i><span class="r" style="transform:scaleX(0.968);margin-right:-2.64px">]1.0x</span></div>
<div class="t y" style="left:645.26px;top:291.0px"><span class="r" style="transform:scaleX(0.910);margin-right:-12.17px">AnyTLS</span></div>
<div class="t d" style="left:858.60px;top:291.0px"><span class="r" style="transform:scaleX(0.962);margin-right:-4.33px">345ms</span></div>
<div class="t d" style="left:1082.72px;top:291.0px"><span class="r" style="transform:scaleX(0.962);margin-right:-5.14px">2412ms</span></div>
<div class="t s" style="left:1339.00px;top:291.0px"><span class="r" style="transform:scaleX(0.955);margin-right:-5.89px">6.26MB</span></div>
<div class="t s" style="left:1576.45px;top:291.0px"><span class="r" style="transform:scaleX(0.955);margin-right:-6.84px">11.51MB</span></div>
<div class="t n" style="left:66.87px;top:349.0px"><span class="r" style="transform:scaleX(0.962);margin-right:-0.80px">5</span></div>
<div class="t l" style="left:173.08px;top:349.0px"><i class="c">美</i><i class="c">国</i><span class="r" style="transform:scaleX(0.968);margin-right:-1.69px">01[</span><i class="c">中</i><i class="c">转</i><span class="r" style="transform:scaleX(0.968);margin-right:-2.64px">]1.0x</span></div>
<div class="t y" style="left:645.26px;top:349.0px"><span class="r" style="transform:scaleX(0.910);margin-right:-12.17px">AnyTLS</span></div>
<div class="t d" style="left:858.60px;top:349.0px"><span class="r" style="transform:scaleX(0.962);margin-right:-4.33px">331ms</span></div>
<div class="t d" style="left:1082.24px;top:349.0px"><span class="r" style="transform:scaleX(0.962);margin-right:-5.14px">1402ms</span></div>
<div class="t s" style="left:1339.20px;top:349.0px"><span class="r" style="transform:scaleX(0.955);margin-right:-5.89px">5.53MB</span></div>
<div class="t s" style="left:1576.45px;top:349.0px"><span class="r" style="transform:scaleX(0.955);margin-right:-6.84px">12.92MB</span></div>
<div class="t n" style="left:66.71px;top:407.0px"><span class="r" style="transform:scaleX(0.962);margin-right:-0.80px">6</span></div>
<div class="t l" style="left:173.08px;top:407.0px"><i class="c">英</i><i class="c">国</i><span class="r" style="transform:scaleX(0.968);margin-right:-1.69px">01[</span><i class="c">中</i><i class="c">转</i><span class="r" style="transform:scaleX(0.968);margin-right:-2.64px">]1.0x</span></div>
<div class="t y" style="left:645.26px;top:407.0px"><span class="r" style="transform:scaleX(0.910);margin-right:-12.17px">AnyTLS</span></div>
<div class="t d" style="left:858.60px;top:407.0px"><span class="r" style="transform:scaleX(0.962);margin-right:-4.33px">340ms</span></div>
<div class="t d" style="left:1082.24px;top:407.0px"><span class="r" style="transform:scaleX(0.962);margin-right:-5.14px">1262ms</span></div>
<div class="t s" style="left:1318.36px;top:407.0px"><span class="r" style="transform:scaleX(0.955);margin-right:-7.80px">113.77MB</span></div>
<div class="t s" style="left:1566.36px;top:407.0px"><span class="r" style="transform:scaleX(0.955);margin-right:-7.80px">185.76MB</span></div>
<div class="t n" style="left:66.82px;top:465.0px"><span class="r" style="transform:scaleX(0.962);margin-right:-0.80px">7</span></div>
<div class="t l" style="left:173.08px;top:465.0px"><i class="c">越</i><i class="c">南</i><span class="r" style="transform:scaleX(0.968);margin-right:-1.69px">01[</span><i class="c">中</i><i class="c">转</i><span class="r" style="transform:scaleX(0.968);margin-right:-2.64px">]1.0x</span></div>
<div class="t y" style="left:645.26px;top:465.0px"><span class="r" style="transform:scaleX(0.910);margin-right:-12.17px">AnyTLS</span></div>
<div class="t d" style="left:857.91px;top:465.0px"><span class="r" style="transform:scaleX(0.962);margin-right:-4.33px">167ms</span></div>
<div class="t d" style="left:1092.87px;top:465.0px"><span class="r" style="transform:scaleX(0.962);margin-right:-4.33px">641ms</span></div>
<div class="t s" style="left:1329.04px;top:465.0px"><span class="r" style="transform:scaleX(0.955);margin-right:-6.84px">89.93MB</span></div>
<div class="t s" style="left:1566.36px;top:465.0px"><span class="r" style="transform:scaleX(0.955);margin-right:-7.80px">133.32MB</span></div>
<div class="t n" style="left:66.83px;top:523.0px"><span class="r" style="transform:scaleX(0.962);margin-right:-0.80px">8</span></div>
<div class="t l" style="left:173.08px;top:523.0px"><i class="c">法</i><i class="c">国</i><span class="r" style="transform:scaleX(0.968);margin-right:-1.69px">01[</span><i class="c">中</i><i class="c">转</i><span class="r" style="transform:scaleX(0.968);margin-right:-2.64px">]1.0x</span></div>
<div class="t y" style="left:645.26px;top:523.0px"><span class="r" style="transform:scaleX(0.910);margin-right:-12.17px">AnyTLS</span></div>
<div class="t d" style="left:858.60px;top:523.0px"><span class="r" style="transform:scaleX(0.962);margin-right:-4.33px">303ms</span></div>
<div class="t d" style="left:1082.24px;top:523.0px"><span class="r" style="transform:scaleX(0.962);margin-right:-5.14px">1204ms</span></div>
<div class="t s" style="left:1318.36px;top:523.0px"><span class="r" style="transform:scaleX(0.955);margin-right:-7.80px">116.49MB</span></div>
<div class="t s" style="left:1566.36px;top:523.0px"><span class="r" style="transform:scaleX(0.955);margin-right:-7.80px">159.33MB</span></div>
<div class="t n" style="left:66.84px;top:581.0px"><span class="r" style="transform:scaleX(0.962);margin-right:-0.80px">9</span></div>
<div class="t l" style="left:173.08px;top:581.0px"><i class="c">德</i><i class="c">国</i><span class="r" style="transform:scaleX(0.968);margin-right:-1.69px">01[</span><i class="c">中</i><i class="c">转</i><span class="r" style="transform:scaleX(0.968);margin-right:-2.64px">]1.0x</span></div>
<div class="t y" style="left:645.26px;top:581.0px"><span class="r" style="transform:scaleX(0.910);margin-right:-12.17px">AnyTLS</span></div>
<div class="t d" style="left:858.60px;top:581.0px"><span class="r" style="transform:scaleX(0.962);margin-right:-4.33px">351ms</span></div>
<div class="t d" style="left:1082.24px;top:581.0px"><span class="r" style="transform:scaleX(0.962);margin-right:-5.14px">1504ms</span></div>
<div class="t s" style="left:1318.36px;top:581.0px"><span class="r" style="transform:scaleX(0.955);margin-right:-7.80px">113.29MB</span></div>
<div class="t s" style="left:1566.36px;top:581.0px"><span class="r" style="transform:scaleX(0.955);margin-right:-7.80px">179.83MB</span></div>
<div class="t n" style="left:55.99px;top:639.0px"><span class="r" style="transform:scaleX(0.962);margin-right:-1.61px">10</span></div>
<div class="t l" style="left:173.08px;top:639.0px"><i class="c">泰</i><i class="c">国</i><span class="r" style="transform:scaleX(0.968);margin-right:-1.69px">01[</span><i class="c">中</i><i class="c">转</i><span class="r" style="transform:scaleX(0.968);margin-right:-2.64px">]1.0x</span></div>
<div class="t y" style="left:645.26px;top:639.0px"><span class="r" style="transform:scaleX(0.910);margin-right:-12.17px">AnyTLS</span></div>
<div class="t d" style="left:858.38px;top:639.0px"><span class="r" style="transform:scaleX(0.962);margin-right:-4.33px">236ms</span></div>
<div class="t d" style="left:1092.94px;top:639.0px"><span class="r" style="transform:scaleX(0.962);margin-right:-4.33px">920ms</span></div>
<div class="t s" style="left:1329.42px;top:639.0px"><span class="r" style="transform:scaleX(0.955);margin-right:-6.84px">42.05MB</span></div>
<div class="t s" style="left:1576.90px;top:639.0px"><span class="r" style="transform:scaleX(0.955);margin-right:-6.84px">73.76MB</span></div>
<div class="t n" style="left:56.17px;top:697.0px"><span class="r" style="transform:scaleX(0.962);margin-right:-1.61px">11</span></div>
<div class="t l" style="left:173.08px;top:697.0px"><i class="c">韩</i><i class="c">国</i><span class="r" style="transform:scaleX(0.968);margin-right:-1.69px">01[</span><i class="c">中</i><i class="c">转</i><span class="r" style="transform:scaleX(0.968);margin-right:-2.64px">]1.0x</span></div>
<div class="t y" style="left:645.26px;top:697.0px"><span class="r" style="transform:scaleX(0.910);margin-right:-12.17px">AnyTLS</span></div>
<div class="t d" style="left:857.91px;top:697.0px"><span class="r" style="transform:scaleX(0.962);margin-right:-4.33px">131ms</span></div>
<div class="t d" style="left:1093.38px;top:697.0px"><span class="r" style="transform:scaleX(0.962);margin-right:-4.33px">465ms</span></div>
<div class="t s" style="left:1328.98px;top:697.0px"><span class="r" style="transform:scaleX(0.955);margin-right:-6.84px">92.96MB</span></div>
<div class="t s" style="left:1576.98px;top:697.0px"><span class="r" style="transform:scaleX(0.955);margin-right:-6.84px">99.00MB</span></div>
<div class="t n" style="left:56.20px;top:755.0px"><span class="r" style="transform:scaleX(0.962);margin-right:-1.61px">12</span></div>
<div class="t l" style="left:173.08px;top:755.0px"><i class="c">印</i><i class="c">度</i><span class="r" style="transform:scaleX(0.968);margin-right:-1.69px">01[</span><i class="c">中</i><i class="c">转</i><span class="r" style="transform:scaleX(0.968);margin-right:-2.64px">]1.0x</span></div>
<div class="t y" style="left:645.26px;top:755.0px"><span class="r" style="transform:scaleX(0.910);margin-right:-12.17px">AnyTLS</span></div>
<div class="t d" style="left:857.91px;top:755.0px"><span class="r" style="transform:scaleX(0.962);margin-right:-4.33px">195ms</span></div>
<div class="t d" style="left:1093.01px;top:755.0px"><span class="r" style="transform:scaleX(0.962);margin-right:-4.33px">851ms</span></div>
<div class="t s" style="left:1329.42px;top:755.0px"><span class="r" style="transform:scaleX(0.955);margin-right:-6.84px">48.73MB</span></div>
<div class="t s" style="left:1566.36px;top:755.0px"><span class="r" style="transform:scaleX(0.955);margin-right:-7.80px">158.04MB</span></div>
<div class="t n" style="left:56.08px;top:813.0px"><span class="r" style="transform:scaleX(0.962);margin-right:-1.61px">13</span></div>
<div class="t l" style="left:173.08px;top:813.0px"><i class="c">荷</i><i class="c">兰</i><span class="r" style="transform:scaleX(0.968);margin-right:-1.69px">01[</span><i class="c">中</i><i class="c">转</i><span class="r" style="transform:scaleX(0.968);margin-right:-2.64px">]1.0x</span></div>
<div class="t y" style="left:645.26px;top:813.0px"><span class="r" style="transform:scaleX(0.910);margin-right:-12.17px">AnyTLS</span></div>
<div class="t d" style="left:858.88px;top:813.0px"><span class="r" style="transform:scaleX(0.962);margin-right:-4.33px">416ms</span></div>
<div class="t d" style="left:1082.24px;top:813.0px"><span class="r" style="transform:scaleX(0.962);margin-right:-5.14px">1352ms</span></div>
<div class="t s" style="left:1328.98px;top:813.0px"><span class="r" style="transform:scaleX(0.955);margin-right:-6.84px">91.89MB</span></div>
<div class="t s" style="left:1566.36px;top:813.0px"><span class="r" style="transform:scaleX(0.955);margin-right:-7.80px">177.26MB</span></div>
<div class="t n" style="left:55.81px;top:871.0px"><span class="r" style="transform:scaleX(0.962);margin-right:-1.61px">14</span></div>
<div class="t l" style="left:173.08px;top:871.0px"><i class="c">埃</i><i class="c">及</i><span class="r" style="transform:scaleX(0.968);margin-right:-1.69px">01[</span><i class="c">中</i><i class="c">转</i><span class="r" style="transform:scaleX(0.968);margin-right:-2.64px">]1.0x</span></div>
<div class="t y" style="left:645.26px;top:871.0px"><span class="r" style="transform:scaleX(0.910);margin-right:-12.17px">AnyTLS</span></div>
<div class="t d" style="left:858.60px;top:871.0px"><span class="r" style="transform:scaleX(0.962);margin-right:-4.33px">334ms</span></div>
<div class="t d" style="left:1082.24px;top:871.0px"><span class="r" style="transform:scaleX(0.962);margin-right:-5.14px">1225ms</span></div>
<div class="t s" style="left:1324.73px;top:871.0px"><span class="r" style="transform:scaleX(0.915);margin-right:-14.19px">127.67KB</span></div>
<div class="t s" style="left:1573.24px;top:871.0px"><span class="r" style="transform:scaleX(0.915);margin-right:-14.19px">914.10KB</span></div>
<div class="t n" style="left:56.04px;top:929.0px"><span class="r" style="transform:scaleX(0.962);margin-right:-1.61px">15</span></div>
<div class="t l" style="left:173.08px;top:929.0px"><i class="c">新</i><i class="c">加</i><i class="c">坡</i><span class="r" style="transform:scaleX(0.968);margin-right:-1.69px">01[</span><i class="c">中</i><i class="c">转</i><span class="r" style="transform:scaleX(0.968);margin-right:-2.64px">]1.0x</span></div>
<div class="t y" style="left:645.26px;top:929.0px"><span class="r" style="transform:scaleX(0.910);margin-right:-12.17px">AnyTLS</span></div>
<div class="t d" style="left:857.91px;top:929.0px"><span class="r" style="transform:scaleX(0.962);margin-right:-4.33px">156ms</span></div>
<div class="t d" style="left:1092.86px;top:929.0px"><span class="r" style="transform:scaleX(0.962);margin-right:-4.33px">740ms</span></div>
<div class="t s" style="left:1318.36px;top:929.0px"><span class="r" style="transform:scaleX(0.955);margin-right:-7.80px">134.19MB</span></div>
<div class="t s" style="left:1566.36px;top:929.0px"><span class="r" style="transform:scaleX(0.955);margin-right:-7.80px">176.98MB</span></div>
<div class="t n" style="left:56.08px;top:987.0px"><span class="r" style="transform:scaleX(0.962);margin-right:-1.61px">16</span></div>
<div class="t l" style="left:173.08px;top:987.0px"><i class="c">菲</i><i class="c">律</i><i class="c">宾</i><span class="r" style="transform:scaleX(0.968);margin-right:-1.69px">01[</span><i class="c">中</i><i class="c">转</i><span class="r" style="transform:scaleX(0.968);margin-right:-2.64px">]1.0x</span></div>
<div class="t y" style="left:645.26px;top:987.0px"><span class="r" style="transform:scaleX(0.910);margin-right:-12.17px">AnyTLS</span></div>
<div class="t d" style="left:857.91px;top:987.0px"><span class="r" style="transform:scaleX(0.962);margin-right:-4.33px">146ms</span></div>
<div class="t d" style="left:1092.86px;top:987.0px"><span class="r" style="transform:scaleX(0.962);margin-right:-4.33px">710ms</span></div>
<div class="t s" style="left:1328.98px;top:987.0px"><span class="r" style="transform:scaleX(0.955);margin-right:-6.84px">96.25MB</span></div>
<div class="t s" style="left:1566.36px;top:987.0px"><span class="r" style="transform:scaleX(0.955);margin-right:-7.80px">133.14MB</span></div>
<div class="t n" style="left:56.20px;top:1045.0px"><span class="r" style="transform:scaleX(0.962);margin-right:-1.61px">17</span></div>
<div class="t l" style="left:173.08px;top:1045.0px"><i class="c">加</i><i class="c">拿</i><i class="c">大</i><span class="r" style="transform:scaleX(0.968);margin-right:-1.69px">01[</span><i class="c">中</i><i class="c">转</i><span class="r" style="transform:scaleX(0.968);margin-right:-2.64px">]1.0x</span></div>
<div class="t y" style="left:645.26px;top:1045.0px"><span class="r" style="transform:scaleX(0.910);margin-right:-12.17px">AnyTLS</span></div>
<div class="t d" style="left:907.41px;top:1045.0px"><span class="r" style="transform:scaleX(0.962);margin-right:-0.48px">-</span></div>
<div class="t d" style="left:1141.91px;top:1045.0px"><span class="r" style="transform:scaleX(0.962);margin-right:-0.48px">-</span></div>
<div class="t s" style="left:1328.45px;top:1045.0px"><span class="r" style="transform:scaleX(0.955);margin-right:-6.84px">17.08MB</span></div>
<div class="t s" style="left:1576.92px;top:1045.0px"><span class="r" style="transform:scaleX(0.955);margin-right:-6.84px">29.67MB</span></div>
<div class="t n" style="left:56.07px;top:1103.0px"><span class="r" style="transform:scaleX(0.962);margin-right:-1.61px">18</span></div>
<div class="t l" style="left:173.08px;top:1103.0px"><i class="c">墨</i><i class="c">西</i><i class="c">哥</i><span class="r" style="transform:scaleX(0.968);margin-right:-1.69px">01[</span><i class="c">中</i><i class="c">转</i><span class="r" style="transform:scaleX(0.968);margin-right:-2.64px">]1.0x</span></div>
<div class="t y" style="left:645.26px;top:1103.0px"><span class="r" style="transform:scaleX(0.910);margin-right:-12.17px">AnyTLS</span></div>
<div class="t d" style="left:858.38px;top:1103.0px"><span class="r" style="transform:scaleX(0.962);margin-right:-4.33px">294ms</span></div>
<div class="t d" style="left:1082.24px;top:1103.0px"><span class="r" style="transform:scaleX(0.962);margin-right:-5.14px">1182ms</span></div>
<div class="t s" style="left:1328.90px;top:1103.0px"><span class="r" style="transform:scaleX(0.955);margin-right:-6.84px">74.39MB</span></div>
<div class="t s" style="left:1566.36px;top:1103.0px"><span class="r" style="transform:scaleX(0.955);margin-right:-7.80px">110.30MB</span></div>
<div class="t n" style="left:56.14px;top:1161.0px"><span class="r" style="transform:scaleX(0.962);margin-right:-1.61px">19</span></div>
<div class="t l" style="left:173.08px;top:1161.0px"><i class="c">澳</i><i class="c">大</i><i class="c">利</i><i class="c">亚</i><span class="r" style="transform:scaleX(0.968);margin-right:-1.69px">01[</span><i class="c">中</i><i class="c">转</i><span class="r" style="transform:scaleX(0.968);margin-right:-2.64px">]1.0x</span></div>
<div class="t y" style="left:645.26px;top:1161.0px"><span class="r" style="transform:scaleX(0.910);margin-right:-12.17px">AnyTLS</span></div>
<div class="t d" style="left:858.38px;top:1161.0px"><span class="r" style="transform:scaleX(0.962);margin-right:-4.33px">274ms</span></div>
<div class="t d" style="left:1082.24px;top:1161.0px"><span class="r" style="transform:scaleX(0.962);margin-right:-5.14px">1100ms</span></div>
<div class="t s" style="left:1328.91px;top:1161.0px"><span class="r" style="transform:scaleX(0.955);margin-right:-6.84px">64.77MB</span></div>
<div class="t s" style="left:1566.36px;top:1161.0px"><span class="r" style="transform:scaleX(0.955);margin-right:-7.80px">103.13MB</span></div>
<div class="t n" style="left:56.46px;top:1219.0px"><span class="r" style="transform:scaleX(0.962);margin-right:-1.61px">20</span></div>
<div class="t l" style="left:173.08px;top:1219.0px"><i class="c">巴</i><i class="c">基</i><i class="c">斯</i><i class="c">坦</i><span class="r" style="transform:scaleX(0.968);margin-right:-1.69px">01[</span><i class="c">中</i><i class="c">转</i><span class="r" style="transform:scaleX(0.968);margin-right:-2.64px">]1.0x</span></div>
<div class="t y" style="left:645.26px;top:1219.0px"><span class="r" style="transform:scaleX(0.910);margin-right:-12.17px">AnyTLS</span></div>
<div class="t d" style="left:858.44px;top:1219.0px"><span class="r" style="transform:scaleX(0.962);margin-right:-4.33px">921ms</span></div>
<div class="t d" style="left:1082.72px;top:1219.0px"><span class="r" style="transform:scaleX(0.962);margin-right:-5.14px">2757ms</span></div>
<div class="t s" style="left:1328.45px;top:1219.0px"><span class="r" style="transform:scaleX(0.955);margin-right:-6.84px">14.89MB</span></div>
<div class="t s" style="left:1577.14px;top:1219.0px"><span class="r" style="transform:scaleX(0.955);margin-right:-6.84px">32.52MB</span></div>
<div class="t n" style="left:56.64px;top:1277.0px"><span class="r" style="transform:scaleX(0.962);margin-right:-1.61px">21</span></div>
<div class="t l" style="left:173.08px;top:1277.0px"><i class="c">马</i><i class="c">来</i><i class="c">西</i><i class="c">亚</i><span class="r" style="transform:scaleX(0.968);margin-right:-1.69px">01[</span><i class="c">中</i><i class="c">转</i><span class="r" style="transform:scaleX(0.968);margin-right:-2.64px">]1.0x</span></div>
<div class="t y" style="left:645.26px;top:1277.0px"><span class="r" style="transform:scaleX(0.910);margin-right:-12.17px">AnyTLS</span></div>
<div class="t d" style="left:858.88px;top:1277.0px"><span class="r" style="transform:scaleX(0.962);margin-right:-4.33px">436ms</span></div>
<div class="t d" style="left:1082.24px;top:1277.0px"><span class="r" style="transform:scaleX(0.962);margin-right:-5.14px">1790ms</span></div>
<div class="t s" style="left:1329.11px;top:1277.0px"><span class="r" style="transform:scaleX(0.955);margin-right:-6.84px">52.74MB</span></div>
<div class="t s" style="left:1576.91px;top:1277.0px"><span class="r" style="transform:scaleX(0.955);margin-right:-6.84px">61.05MB</span></div>
<div class="t n" style="left:56.67px;top:1335.0px"><span class="r" style="transform:scaleX(0.962);margin-right:-1.61px">22</span></div>
<div class="t l" style="left:173.08px;top:1335.0px"><i class="c">印</i><i class="c">度</i><i class="c">尼</i><i class="c">西</i><i class="c">亚</i><span class="r" style="transform:scaleX(0.968);margin-right:-1.69px">01[</span><i class="c">中</i><i class="c">转</i><span class="r" style="transform:scaleX(0.968);margin-right:-2.64px">]1.0x</span></div>
<div class="t y" style="left:645.26px;top:1335.0px"><span class="r" style="transform:scaleX(0.910);margin-right:-12.17px">AnyTLS</span></div>
<div class="t d" style="left:858.37px;top:1335.0px"><span class="r" style="transform:scaleX(0.962);margin-right:-4.33px">609ms</span></div>
<div class="t d" style="left:1082.94px;top:1335.0px"><span class="r" style="transform:scaleX(0.962);margin-right:-5.14px">3309ms</span></div>
<div class="t s" style="left:1328.45px;top:1335.0px"><span class="r" style="transform:scaleX(0.955);margin-right:-6.84px">10.32MB</span></div>
<div class="t s" style="left:1577.14px;top:1335.0px"><span class="r" style="transform:scaleX(0.955);margin-right:-6.84px">32.87MB</span></div>
<div class="t n" style="left:56.55px;top:1393.0px"><span class="r" style="transform:scaleX(0.962);margin-right:-1.61px">23</span></div>
<div class="t l" style="left:173.08px;top:1393.0px"><i class="c">香</i><i class="c">港</i><span class="r" style="transform:scaleX(0.968);margin-right:-2.51px;word-spacing:2.6px">01 | </span><i class="c">直</i><i class="c">连</i></div>
<div class="t y" style="left:645.26px;top:1393.0px"><span class="r" style="transform:scaleX(0.910);margin-right:-12.17px">AnyTLS</span></div>
<div class="t d" style="left:907.41px;top:1393.0px"><span class="r" style="transform:scaleX(0.962);margin-right:-0.48px">-</span></div>
<div class="t d" style="left:1141.91px;top:1393.0px"><span class="r" style="transform:scaleX(0.962);margin-right:-0.48px">-</span></div>
<div class="t s" style="left:1328.91px;top:1393.0px"><span class="r" style="transform:scaleX(0.955);margin-right:-6.84px">67.22MB</span></div>
<div class="t s" style="left:1576.90px;top:1393.0px"><span class="r" style="transform:scaleX(0.955);margin-right:-6.84px">72.47MB</span></div>
<div class="t n" style="left:56.29px;top:1451.0px"><span class="r" style="transform:scaleX(0.962);margin-right:-1.61px">24</span></div>
<div class="t l" style="left:173.08px;top:1451.0px"><i class="c">日</i><i class="c">本</i><span class="r" style="transform:scaleX(0.968);margin-right:-2.51px;word-spacing:2.6px">01 | </span><i class="c">直</i><i class="c">连</i></div>
<div class="t y" style="left:645.26px;top:1451.0px"><span class="r" style="transform:scaleX(0.910);margin-right:-12.17px">AnyTLS</span></div>
<div class="t d" style="left:858.38px;top:1451.0px"><span class="r" style="transform:scaleX(0.962);margin-right:-4.33px">271ms</span></div>
<div class="t d" style="left:1093.01px;top:1451.0px"><span class="r" style="transform:scaleX(0.962);margin-right:-4.33px">890ms</span></div>
<div class="t s" style="left:1328.98px;top:1451.0px"><span class="r" style="transform:scaleX(0.955);margin-right:-6.84px">94.91MB</span></div>
<div class="t s" style="left:1566.36px;top:1451.0px"><span class="r" style="transform:scaleX(0.955);margin-right:-7.80px">129.23MB</span></div>
<div class="t n" style="left:56.52px;top:1509.0px"><span class="r" style="transform:scaleX(0.962);margin-right:-1.61px">25</span></div>
<div class="t l" style="left:173.08px;top:1509.0px"><i class="c">美</i><i class="c">国</i><span class="r" style="transform:scaleX(0.968);margin-right:-2.51px;word-spacing:2.6px">01 | </span><i class="c">直</i><i class="c">连</i></div>
<div class="t y" style="left:645.26px;top:1509.0px"><span class="r" style="transform:scaleX(0.910);margin-right:-12.17px">AnyTLS</span></div>
<div class="t d" style="left:858.38px;top:1509.0px"><span class="r" style="transform:scaleX(0.962);margin-right:-4.33px">280ms</span></div>
<div class="t d" style="left:1082.24px;top:1509.0px"><span class="r" style="transform:scaleX(0.962);margin-right:-5.14px">1428ms</span></div>
<div class="t s" style="left:1328.90px;top:1509.0px"><span class="r" style="transform:scaleX(0.955);margin-right:-6.84px">77.36MB</span></div>
<div class="t s" style="left:1566.36px;top:1509.0px"><span class="r" style="transform:scaleX(0.955);margin-right:-7.80px">113.27MB</span></div>
<div class="t n" style="left:56.55px;top:1567.0px"><span class="r" style="transform:scaleX(0.962);margin-right:-1.61px">26</span></div>
<div class="t l" style="left:173.08px;top:1567.0px"><i class="c">韩</i><i class="c">国</i><span class="r" style="transform:scaleX(0.968);margin-right:-2.51px;word-spacing:2.6px">01 | </span><i class="c">直</i><i class="c">连</i></div>
<div class="t y" style="left:645.26px;top:1567.0px"><span class="r" style="transform:scaleX(0.910);margin-right:-12.17px">AnyTLS</span></div>
<div class="t d" style="left:869.05px;top:1567.0px"><span class="r" style="transform:scaleX(0.962);margin-right:-3.53px">48ms</span></div>
<div class="t d" style="left:1092.88px;top:1567.0px"><span class="r" style="transform:scaleX(0.962);margin-right:-4.33px">221ms</span></div>
<div class="t s" style="left:1328.98px;top:1567.0px"><span class="r" style="transform:scaleX(0.955);margin-right:-6.84px">96.09MB</span></div>
<div class="t s" style="left:1566.36px;top:1567.0px"><span class="r" style="transform:scaleX(0.955);margin-right:-7.80px">103.39MB</span></div>
<div class="t n" style="left:56.67px;top:1625.0px"><span class="r" style="transform:scaleX(0.962);margin-right:-1.61px">27</span></div>
<div class="t l" style="left:173.08px;top:1625.0px"><i class="c">台</i><i class="c">湾</i><span class="r" style="transform:scaleX(0.968);margin-right:-2.51px;word-spacing:2.6px">01 | </span><i class="c">直</i><i class="c">连</i></div>
<div class="t y" style="left:645.26px;top:1625.0px"><span class="r" style="transform:scaleX(0.910);margin-right:-12.17px">AnyTLS</span></div>
<div class="t d" style="left:868.53px;top:1625.0px"><span class="r" style="transform:scaleX(0.962);margin-right:-3.53px">78ms</span></div>
<div class="t d" style="left:1093.38px;top:1625.0px"><span class="r" style="transform:scaleX(0.962);margin-right:-4.33px">484ms</span></div>
<div class="t s" style="left:1329.42px;top:1625.0px"><span class="r" style="transform:scaleX(0.955);margin-right:-6.84px">44.45MB</span></div>
<div class="t s" style="left:1577.42px;top:1625.0px"><span class="r" style="transform:scaleX(0.955);margin-right:-6.84px">49.65MB</span></div>
<div class="t n" style="left:56.54px;top:1683.0px"><span class="r" style="transform:scaleX(0.962);margin-right:-1.61px">28</span></div>
<div class="t l" style="left:173.08px;top:1683.0px"><i class="c">泰</i><i class="c">国</i><span class="r" style="transform:scaleX(0.968);margin-right:-2.51px;word-spacing:2.6px">01 | </span><i class="c">直</i><i class="c">连</i></div>
<div class="t y" style="left:645.26px;top:1683.0px"><span class="r" style="transform:scaleX(0.910);margin-right:-12.17px">AnyTLS</span></div>
<div class="t d" style="left:858.37px;top:1683.0px"><span class="r" style="transform:scaleX(0.962);margin-right:-4.33px">634ms</span></div>
<div class="t d" style="left:1082.24px;top:1683.0px"><span class="r" style="transform:scaleX(0.962);margin-right:-5.14px">1146ms</span></div>
<div class="t s" style="left:1329.42px;top:1683.0px"><span class="r" style="transform:scaleX(0.955);margin-right:-6.84px">41.34MB</span></div>
<div class="t s" style="left:1576.91px;top:1683.0px"><span class="r" style="transform:scaleX(0.955);margin-right:-6.84px">66.17MB</span></div>
<div class="t n" style="left:56.62px;top:1741.0px"><span class="r" style="transform:scaleX(0.962);margin-right:-1.61px">29</span></div>
<div class="t l" style="left:173.08px;top:1741.0px"><i class="c">越</i><i class="c">南</i><span class="r" style="transform:scaleX(0.968);margin-right:-2.51px;word-spacing:2.6px">01 | </span><i class="c">直</i><i class="c">连</i></div>
<div class="t y" style="left:645.26px;top:1741.0px"><span class="r" style="transform:scaleX(0.910);margin-right:-12.17px">AnyTLS</span></div>
<div class="t d" style="left:858.60px;top:1741.0px"><span class="r" style="transform:scaleX(0.962);margin-right:-4.33px">342ms</span></div>
<div class="t d" style="left:1092.94px;top:1741.0px"><span class="r" style="transform:scaleX(0.962);margin-right:-4.33px">960ms</span></div>
<div class="t s" style="left:1329.04px;top:1741.0px"><span class="r" style="transform:scaleX(0.955);margin-right:-6.84px">81.52MB</span></div>
<div class="t s" style="left:1566.36px;top:1741.0px"><span class="r" style="transform:scaleX(0.955);margin-right:-7.80px">106.68MB</span></div>
<div class="t n" style="left:56.69px;top:1799.0px"><span class="r" style="transform:scaleX(0.962);margin-right:-1.61px">30</span></div>
<div class="t l" style="left:173.08px;top:1799.0px"><i class="c">新</i><i class="c">加</i><i class="c">坡</i><span class="r" style="transform:scaleX(0.968);margin-right:-2.51px;word-spacing:2.6px">01 | </span><i class="c">直</i><i class="c">连</i></div>
<div class="t y" style="left:645.26px;top:1799.0px"><span class="r" style="transform:scaleX(0.910);margin-right:-12.17px">AnyTLS</span></div>
<div class="t d" style="left:868.67px;top:1799.0px"><span class="r" style="transform:scaleX(0.962);margin-right:-3.53px">86ms</span></div>
<div class="t d" style="left:1093.10px;top:1799.0px"><span class="r" style="transform:scaleX(0.962);margin-right:-4.33px">354ms</span></div>
<div class="t s" style="left:1328.98px;top:1799.0px"><span class="r" style="transform:scaleX(0.955);margin-right:-6.84px">92.53MB</span></div>
<div class="t s" style="left:1566.36px;top:1799.0px"><span class="r" style="transform:scaleX(0.955);margin-right:-7.80px">113.34MB</span></div>
<div class="t n" style="left:56.87px;top:1857.0px"><span class="r" style="transform:scaleX(0.962);margin-right:-1.61px">31</span></div>
<div class="t l" style="left:173.08px;top:1857.0px"><i class="c">菲</i><i class="c">律</i><i class="c">宾</i><span class="r" style="transform:scaleX(0.968);margin-right:-2.51px;word-spacing:2.6px">01 | </span><i class="c">直</i><i class="c">连</i></div>
<div class="t y" style="left:645.26px;top:1857.0px"><span class="r" style="transform:scaleX(0.910);margin-right:-12.17px">AnyTLS</span></div>
<div class="t d" style="left:869.05px;top:1857.0px"><span class="r" style="transform:scaleX(0.962);margin-right:-3.53px">46ms</span></div>
<div class="t d" style="left:1093.07px;top:1857.0px"><span class="r" style="transform:scaleX(0.962);margin-right:-4.33px">587ms</span></div>
<div class="t s" style="left:1329.04px;top:1857.0px"><span class="r" style="transform:scaleX(0.955);margin-right:-6.84px">88.52MB</span></div>
<div class="t s" style="left:1566.36px;top:1857.0px"><span class="r" style="transform:scaleX(0.955);margin-right:-7.80px">102.21MB</span></div>
<div class="t n" style="left:56.89px;top:1915.0px"><span class="r" style="transform:scaleX(0.962);margin-right:-1.61px">32</span></div>
<div class="t l" style="left:173.08px;top:1915.0px"><i class="c">马</i><i class="c">来</i><i class="c">西</i><i class="c">亚</i><span class="r" style="transform:scaleX(0.968);margin-right:-2.51px;word-spacing:2.6px">01 | </span><i class="c">直</i><i class="c">连</i></div>
<div class="t y" style="left:645.26px;top:1915.0px"><span class="r" style="transform:scaleX(0.910);margin-right:-12.17px">AnyTLS</span></div>
<div class="t d" style="left:858.60px;top:1915.0px"><span class="r" style="transform:scaleX(0.962);margin-right:-4.33px">373ms</span></div>
<div class="t d" style="left:1082.24px;top:1915.0px"><span class="r" style="transform:scaleX(0.962);margin-right:-5.14px">1087ms</span></div>
<div class="t s" style="left:1329.11px;top:1915.0px"><span class="r" style="transform:scaleX(0.955);margin-right:-6.84px">53.84MB</span></div>
<div class="t s" style="left:1577.11px;top:1915.0px"><span class="r" style="transform:scaleX(0.955);margin-right:-6.84px">59.52MB</span></div>
<div class="t n" style="left:56.78px;top:1973.0px"><span class="r" style="transform:scaleX(0.962);margin-right:-1.61px">33</span></div>
<div class="t l" style="left:173.08px;top:1973.0px"><i class="c">澳</i><i class="c">大</i><i class="c">利</i><i class="c">亚</i><span class="r" style="transform:scaleX(0.968);margin-right:-2.51px;word-spacing:2.6px">01 | </span><i class="c">直</i><i class="c">连</i></div>
<div class="t y" style="left:645.26px;top:1973.0px"><span class="r" style="transform:scaleX(0.910);margin-right:-12.17px">AnyTLS</span></div>
<div class="t d" style="left:857.91px;top:1973.0px"><span class="r" style="transform:scaleX(0.962);margin-right:-4.33px">166ms</span></div>
<div class="t d" style="left:1092.86px;top:1973.0px"><span class="r" style="transform:scaleX(0.962);margin-right:-4.33px">765ms</span></div>
<div class="t s" style="left:1328.90px;top:1973.0px"><span class="r" style="transform:scaleX(0.955);margin-right:-6.84px">75.79MB</span></div>
<div class="t s" style="left:1576.98px;top:1973.0px"><span class="r" style="transform:scaleX(0.955);margin-right:-6.84px">99.67MB</span></div>
<div class="t n" style="left:56.51px;top:2031.0px"><span class="r" style="transform:scaleX(0.962);margin-right:-1.61px">34</span></div>
<div class="t l" style="left:173.08px;top:2031.0px"><i class="c">印</i><i class="c">度</i><i class="c">尼</i><i class="c">西</i><i class="c">亚</i><span class="r" style="transform:scaleX(0.968);margin-right:-2.51px;word-spacing:2.6px">01 | </span><i class="c">直</i><i class="c">连</i></div>
<div class="t y" style="left:645.26px;top:2031.0px"><span class="r" style="transform:scaleX(0.910);margin-right:-12.17px">AnyTLS</span></div>
<div class="t d" style="left:857.91px;top:2031.0px"><span class="r" style="transform:scaleX(0.962);margin-right:-4.33px">104ms</span></div>
<div class="t d" style="left:1092.87px;top:2031.0px"><span class="r" style="transform:scaleX(0.962);margin-right:-4.33px">645ms</span></div>
<div class="t s" style="left:1329.11px;top:2031.0px"><span class="r" style="transform:scaleX(0.955);margin-right:-6.84px">53.92MB</span></div>
<div class="t s" style="left:1566.36px;top:2031.0px"><span class="r" style="transform:scaleX(0.955);margin-right:-7.80px">120.34MB</span></div>
<div class="t f" style="left:70.80px;top:2089.0px"><i class="c">已</i><i class="c">核</i><i class="c">实</i></div>
<div class="t f" style="left:188.34px;top:2089.0px"><span class="r" style="transform:scaleX(0.845);margin-right:-9.97px">TLS</span></div>
<div class="t f" style="left:254.32px;top:2089.0px"><i class="c">证</i><i class="c">书</i><i class="c">。</i></div>
<div class="t f" style="left:357.78px;top:2089.0px"><span class="r" style="transform:scaleX(0.916);margin-right:-11.99px">TLS RTT</span></div>
<div class="t f" style="left:498.45px;top:2089.0px"><i class="c">为</i><i class="c">单</i><i class="c">次</i><i class="c">数</i><i class="c">据</i><i class="c">交</i><i class="c">换</i><i class="c">延</i><i class="c">迟</i><i class="c">，</i></div>
<div class="t f" style="left:853.89px;top:2089.0px"><span class="r" style="transform:scaleX(0.945);margin-right:-6.29px">HTTPS</span></div>
<div class="t f" style="left:973.09px;top:2089.0px"><span class="r" style="transform:scaleX(1.049);margin-right:3.43px">Ping</span></div>
<div class="t f" style="left:1056.55px;top:2089.0px"><i class="c">为</i><i class="c">单</i><i class="c">次</i><i class="c">请</i><i class="c">求</i><i class="c">体</i><i class="c">感</i><i class="c">延</i><i class="c">迟</i><i class="c">。</i></div>
<div class="t f" style="left:20.11px;top:2147.0px"><i class="c">主</i><i class="c">端</i></div>
<div class="t f" style="left:91.35px;top:2147.0px"><span class="r" style="transform:scaleX(1.024);margin-right:2.34px">=4.3.3</span></div>
<div class="t f" style="left:203.48px;top:2147.0px"><span class="r" style="transform:scaleX(1.024);margin-right:1.94px">(696)</span></div>
<div class="t f" style="left:296.61px;top:2147.0px"><i class="c">喵</i><i class="c">速</i></div>
<div class="t f" style="left:368.99px;top:2147.0px"><span class="r" style="transform:scaleX(1.059);margin-right:11.61px">=5.0.0-beta6</span></div>
<div class="t f" style="left:590.16px;top:2147.0px"><span class="r" style="transform:scaleX(0.754);margin-right:-2.86px">(</span></div>
<div class="t f" style="left:614.17px;top:2147.0px"><i class="c">华</i><i class="c">东</i></div>
<div class="t f" style="left:686.19px;top:2147.0px"><span class="r" style="transform:scaleX(0.971);margin-right:-0.33px">-</span></div>
<div class="t f" style="left:698.79px;top:2147.0px"><i class="c">上</i><i class="c">海</i><i class="c">电</i><i class="c">信</i></div>
<div class="t f" style="left:847.97px;top:2147.0px"><span class="r" style="transform:scaleX(1.055);margin-right:7.90px">[1Gbps]),</span></div>
<div class="t f" style="left:1007.73px;top:2147.0px"><i class="c">线</i><i class="c">程</i></div>
<div class="t f" style="left:1079.42px;top:2147.0px"><span class="r" style="transform:scaleX(1.099);margin-right:3.94px">=8</span></div>
<div class="t f" style="left:1133.33px;top:2147.0px"><i class="c">概</i><i class="c">要</i></div>
<div class="t f" style="left:1205.83px;top:2147.0px"><span class="r" style="transform:scaleX(1.093);margin-right:10.06px">=34/34</span></div>
<div class="t f" style="left:1333.71px;top:2147.0px"><i class="c">排</i><i class="c">序</i></div>
<div class="t f" style="left:1406.23px;top:2147.0px"><span class="r" style="transform:scaleX(0.976);margin-right:-0.49px">=</span></div>
<div class="t f" style="left:1429.32px;top:2147.0px"><i class="c">订</i><i class="c">阅</i><i class="c">原</i><i class="c">序</i></div>
<div class="t f" style="left:1578.48px;top:2147.0px"><i class="c">过</i><i class="c">滤</i><i class="c">器</i></div>
<div class="t f" style="left:1684.73px;top:2147.0px"><span class="r" style="transform:scaleX(0.976);margin-right:-0.49px">=</span></div>
<div class="t f" style="left:19.85px;top:2205.0px"><i class="c">测</i><i class="c">试</i><i class="c">时</i><i class="c">间</i><i class="c">：</i></div>
<div class="t f" style="left:192.69px;top:2205.0px"><span class="r" style="transform:scaleX(1.083);margin-right:14.94px">2025-11-26</span></div>
<div class="t f" style="left:396.22px;top:2205.0px"><span class="r" style="transform:scaleX(1.010);margin-right:1.39px">21:46:23</span></div>
<div class="t f" style="left:546.13px;top:2205.0px"><span class="r" style="transform:scaleX(0.906);margin-right:-8.78px">(CST)</span></div>
<div class="t f" style="left:632.62px;top:2205.0px"><i class="c">，</i></div>
<div class="t f" style="left:666.78px;top:2205.0px"><i class="c">本</i><i class="c">测</i><i class="c">试</i><i class="c">为</i><i class="c">试</i><i class="c">验</i><i class="c">性</i><i class="c">结</i><i class="c">果</i><i class="c">，</i><i class="c">仅</i><i class="c">供</i><i class="c">参</i><i class="c">考</i><i class="c">。</i></div>
<div class="b" style="left:601.5px;top:2171.2px;width:9.8px;height:17px;box-sizing:border-box;border:1.3px solid #222"></div>
<div class="b" style="left:26.2px;top:2104.1px;width:27.8px;height:28px"><svg viewBox="0 0 27.8 28" width="27.8" height="28"><rect x="0" y="0" width="27.8" height="28" rx="3" fill="#77b255"/><path d="M5.6 16.2 L11.7 22 L21.6 6.2" fill="none" stroke="#f4fff0" stroke-width="3.9" stroke-linecap="round" stroke-linejoin="round"/></svg></div>
<div class="wl" style="opacity:0.075"><div class="wm" style="left:639.1px;top:59.2px"><span class="r" style="transform:scaleX(0.897);margin-right:-21.11px">FFQ.</span><span class="r" style="transform:scaleX(0.940);margin-right:-8.11px">LA </span><span class="r" style="transform:scaleX(0.968);margin-right:-15.05px">Test Center</span></div><div class="wm" style="left:639.1px;top:370.3px"><span class="r" style="transform:scaleX(0.897);margin-right:-21.11px">FFQ.</span><span class="r" style="transform:scaleX(0.940);margin-right:-8.11px">LA </span><span class="r" style="transform:scaleX(0.968);margin-right:-15.05px">Test Center</span></div><div class="wm" style="left:639.1px;top:681.4px"><span class="r" style="transform:scaleX(0.897);margin-right:-21.11px">FFQ.</span><span class="r" style="transform:scaleX(0.940);margin-right:-8.11px">LA </span><span class="r" style="transform:scaleX(0.968);margin-right:-15.05px">Test Center</span></div><div class="wm" style="left:639.1px;top:992.5px"><span class="r" style="transform:scaleX(0.897);margin-right:-21.11px">FFQ.</span><span class="r" style="transform:scaleX(0.940);margin-right:-8.11px">LA </span><span class="r" style="transform:scaleX(0.968);margin-right:-15.05px">Test Center</span></div><div class="wm" style="left:639.1px;top:1303.6px"><span class="r" style="transform:scaleX(0.897);margin-right:-21.11px">FFQ.</span><span class="r" style="transform:scaleX(0.940);margin-right:-8.11px">LA </span><span class="r" style="transform:scaleX(0.968);margin-right:-15.05px">Test Center</span></div><div class="wm" style="left:639.1px;top:1614.7px"><span class="r" style="transform:scaleX(0.897);margin-right:-21.11px">FFQ.</span><span class="r" style="transform:scaleX(0.940);margin-right:-8.11px">LA </span><span class="r" style="transform:scaleX(0.968);margin-right:-15.05px">Test Center</span></div><div class="wm" style="left:639.1px;top:1925.8px"><span class="r" style="transform:scaleX(0.897);margin-right:-21.11px">FFQ.</span><span class="r" style="transform:scaleX(0.940);margin-right:-8.11px">LA </span><span class="r" style="transform:scaleX(0.968);margin-right:-15.05px">Test Center</span></div><div class="wm" style="left:639.1px;top:2236.9px"><span class="r" style="transform:scaleX(0.897);margin-right:-21.11px">FFQ.</span><span class="r" style="transform:scaleX(0.940);margin-right:-8.11px">LA </span><span class="r" style="transform:scaleX(0.968);margin-right:-15.05px">Test Center</span></div></div>
<div class="wl" style="opacity:0.109;clip-path:polygon(0 0,1993px 0,1993px 117.0px,808.0px 117.0px,808.0px 2089.0px,1993px 2089.0px,1993px 2264px,0 2264px)"><div class="wm" style="left:639.1px;top:59.2px"><span class="r" style="transform:scaleX(0.897);margin-right:-21.11px">FFQ.</span><span class="r" style="transform:scaleX(0.940);margin-right:-8.11px">LA </span><span class="r" style="transform:scaleX(0.968);margin-right:-15.05px">Test Center</span></div><div class="wm" style="left:639.1px;top:370.3px"><span class="r" style="transform:scaleX(0.897);margin-right:-21.11px">FFQ.</span><span class="r" style="transform:scaleX(0.940);margin-right:-8.11px">LA </span><span class="r" style="transform:scaleX(0.968);margin-right:-15.05px">Test Center</span></div><div class="wm" style="left:639.1px;top:681.4px"><span class="r" style="transform:scaleX(0.897);margin-right:-21.11px">FFQ.</span><span class="r" style="transform:scaleX(0.940);margin-right:-8.11px">LA </span><span class="r" style="transform:scaleX(0.968);margin-right:-15.05px">Test Center</span></div><div class="wm" style="left:639.1px;top:992.5px"><span class="r" style="transform:scaleX(0.897);margin-right:-21.11px">FFQ.</span><span class="r" style="transform:scaleX(0.940);margin-right:-8.11px">LA </span><span class="r" style="transform:scaleX(0.968);margin-right:-15.05px">Test Center</span></div><div class="wm" style="left:639.1px;top:1303.6px"><span class="r" style="transform:scaleX(0.897);margin-right:-21.11px">FFQ.</span><span class="r" style="transform:scaleX(0.940);margin-right:-8.11px">LA </span><span class="r" style="transform:scaleX(0.968);margin-right:-15.05px">Test Center</span></div><div class="wm" style="left:639.1px;top:1614.7px"><span class="r" style="transform:scaleX(0.897);margin-right:-21.11px">FFQ.</span><span class="r" style="transform:scaleX(0.940);margin-right:-8.11px">LA </span><span class="r" style="transform:scaleX(0.968);margin-right:-15.05px">Test Center</span></div><div class="wm" style="left:639.1px;top:1925.8px"><span class="r" style="transform:scaleX(0.897);margin-right:-21.11px">FFQ.</span><span class="r" style="transform:scaleX(0.940);margin-right:-8.11px">LA </span><span class="r" style="transform:scaleX(0.968);margin-right:-15.05px">Test Center</span></div><div class="wm" style="left:639.1px;top:2236.9px"><span class="r" style="transform:scaleX(0.897);margin-right:-21.11px">FFQ.</span><span class="r" style="transform:scaleX(0.940);margin-right:-8.11px">LA </span><span class="r" style="transform:scaleX(0.968);margin-right:-15.05px">Test Center</span></div></div>
<div class="b" style="left:0.0px;top:0.0px;width:1993.0px;height:3.1px;background:#fff"></div>
<div class="b" style="left:0.0px;top:0.0px;width:3.1px;height:2264.0px;background:#fff"></div>
<div class="b" style="left:1990.2px;top:0.0px;width:2.8px;height:2264.0px;background:#fff"></div>
<div class="b" style="left:0.0px;top:2260.9px;width:1993.0px;height:3.1px;background:#fff"></div>
<div class="b" style="left:0.0px;top:0.0px;width:1993.0px;height:1.9px;background:#000"></div>
<div class="b" style="left:0.0px;top:0.0px;width:1.9px;height:2264.0px;background:#000"></div>
<div class="b" style="left:1991.3px;top:0.0px;width:1.7px;height:2264.0px;background:#000"></div>
<div class="b" style="left:0.0px;top:2262.0px;width:1993.0px;height:2.0px;background:#000"></div>
</div>
</body></html>
